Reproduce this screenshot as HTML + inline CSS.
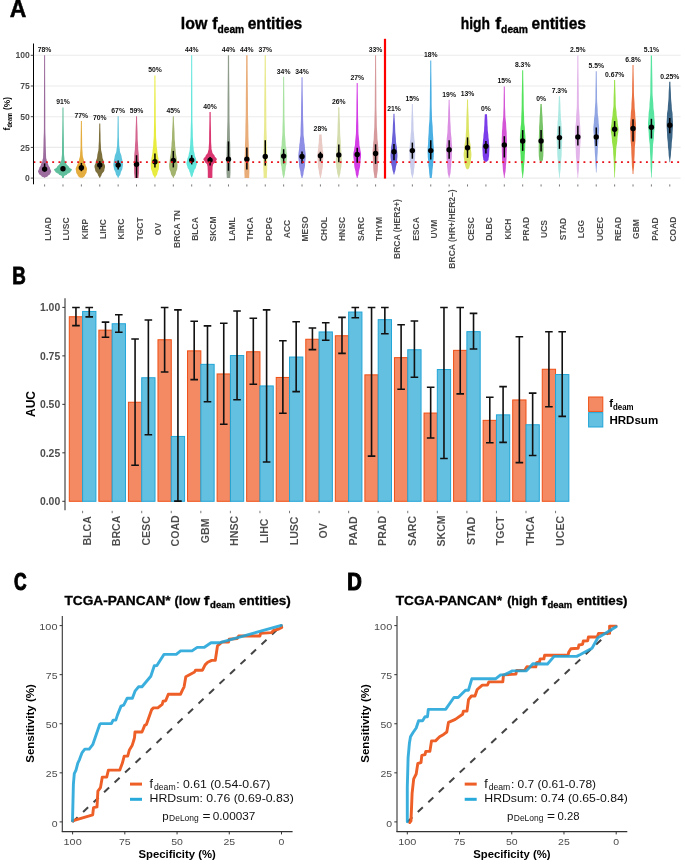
<!DOCTYPE html><html><head><meta charset="utf-8"><title>Figure</title><style>html,body{margin:0;padding:0;background:#fff;}svg{display:block;will-change:transform;}text{font-family:"Liberation Sans",sans-serif;}</style></head><body>
<svg width="685" height="866" viewBox="0 0 685 866">
<rect width="685" height="866" fill="#fff"/>
<line x1="33.6" y1="178.1" x2="680.6" y2="178.1" stroke="#ebebeb" stroke-width="1.1"/>
<line x1="33.6" y1="147.4" x2="680.6" y2="147.4" stroke="#ebebeb" stroke-width="1.1"/>
<line x1="33.6" y1="116.7" x2="680.6" y2="116.7" stroke="#ebebeb" stroke-width="1.1"/>
<line x1="33.6" y1="86" x2="680.6" y2="86" stroke="#ebebeb" stroke-width="1.1"/>
<line x1="33.6" y1="55.3" x2="680.6" y2="55.3" stroke="#ebebeb" stroke-width="1.1"/>
<path d="M44.3,177.73 L43.9,177.36 L42.95,176.99 L42,176.63 L41.6,176.26 L41.22,175.64 L40.3,175.03 L39.38,174.42 L39,173.8 L38.85,173.22 L38.5,172.64 L38.15,172.05 L38,171.47 L38.18,170.67 L38.6,169.87 L39.02,169.07 L39.2,168.28 L39.46,167.35 L40.1,166.43 L40.74,165.51 L41,164.59 L41.21,163.67 L41.7,162.75 L42.19,161.83 L42.4,160.91 L42.5,159.99 L42.75,159.07 L43,158.14 L43.1,157.22 L43.13,155.69 L43.2,154.15 L43.27,152.62 L43.3,151.08 L43.33,149.24 L43.4,147.4 L43.47,145.56 L43.5,143.72 L43.56,140.03 L43.7,136.35 L43.84,132.66 L43.9,128.98 L43.93,110.56 L44,92.14 L44.07,73.72 L44.1,55.3 L45.1,55.3 L45.13,73.72 L45.2,92.14 L45.27,110.56 L45.3,128.98 L45.36,132.66 L45.5,136.35 L45.64,140.03 L45.7,143.72 L45.73,145.56 L45.8,147.4 L45.87,149.24 L45.9,151.08 L45.93,152.62 L46,154.15 L46.07,155.69 L46.1,157.22 L46.2,158.14 L46.45,159.07 L46.7,159.99 L46.8,160.91 L47.01,161.83 L47.5,162.75 L47.99,163.67 L48.2,164.59 L48.46,165.51 L49.1,166.43 L49.74,167.35 L50,168.28 L50.18,169.07 L50.6,169.87 L51.02,170.67 L51.2,171.47 L51.05,172.05 L50.7,172.64 L50.35,173.22 L50.2,173.8 L49.82,174.42 L48.9,175.03 L47.98,175.64 L47.6,176.26 L47.2,176.63 L46.25,176.99 L45.3,177.36 L44.9,177.73 Z" fill="#9d6c9f"/>
<path d="M62.19,178.1 L62.14,177.64 L62.04,177.18 L61.93,176.72 L61.89,176.26 L61.46,175.8 L60.44,175.34 L59.41,174.88 L58.99,174.42 L58.48,173.8 L57.24,173.19 L56,172.57 L55.49,171.96 L55.27,171.41 L54.74,170.85 L54.21,170.3 L53.99,169.75 L54.43,169.07 L55.49,168.4 L56.55,167.72 L56.99,167.05 L57.43,166.13 L58.49,165.21 L59.55,164.28 L59.99,163.36 L60.21,162.44 L60.74,161.52 L61.27,160.6 L61.49,159.68 L61.56,158.15 L61.74,156.61 L61.91,155.07 L61.99,153.54 L62.06,142.06 L62.24,130.57 L62.41,119.08 L62.49,107.6 L63.49,107.6 L63.56,119.08 L63.74,130.57 L63.91,142.06 L63.99,153.54 L64.06,155.07 L64.24,156.61 L64.41,158.15 L64.49,159.68 L64.71,160.6 L65.24,161.52 L65.77,162.44 L65.99,163.36 L66.43,164.28 L67.49,165.21 L68.55,166.13 L68.99,167.05 L69.43,167.72 L70.49,168.4 L71.55,169.07 L71.99,169.75 L71.77,170.3 L71.24,170.85 L70.71,171.41 L70.49,171.96 L69.98,172.57 L68.74,173.19 L67.5,173.8 L66.99,174.42 L66.56,174.88 L65.54,175.34 L64.51,175.8 L64.09,176.26 L64.04,176.72 L63.94,177.18 L63.83,177.64 L63.79,178.1 Z" fill="#5fbf9c"/>
<path d="M79.78,177.85 L79.5,177.3 L78.83,176.75 L78.15,176.2 L77.88,175.64 L77.63,174.88 L77.03,174.11 L76.42,173.34 L76.18,172.57 L76.1,171.59 L75.93,170.61 L75.75,169.63 L75.68,168.64 L75.92,167.63 L76.53,166.62 L77.13,165.61 L77.38,164.59 L77.58,163.76 L78.08,162.93 L78.57,162.11 L78.78,161.28 L78.97,159.71 L79.43,158.14 L79.89,156.58 L80.08,155.01 L80.15,152.83 L80.33,150.65 L80.5,148.47 L80.58,146.29 L80.62,140 L80.73,133.7 L80.83,127.4 L80.88,121.1 L81.88,121.1 L81.92,127.4 L82.03,133.7 L82.13,140 L82.18,146.29 L82.25,148.47 L82.43,150.65 L82.6,152.83 L82.68,155.01 L82.87,156.58 L83.33,158.14 L83.79,159.71 L83.98,161.28 L84.18,162.11 L84.68,162.93 L85.17,163.76 L85.38,164.59 L85.62,165.61 L86.23,166.62 L86.83,167.63 L87.08,168.64 L87,169.63 L86.83,170.61 L86.65,171.59 L86.58,172.57 L86.33,173.34 L85.73,174.11 L85.12,174.88 L84.88,175.64 L84.6,176.2 L83.93,176.75 L83.25,177.3 L82.98,177.85 Z" fill="#e4ad3e"/>
<path d="M99.46,178.1 L99.22,177.15 L98.61,176.2 L98.01,175.24 L97.76,174.29 L97.4,173.4 L96.51,172.51 L95.63,171.62 L95.26,170.73 L95.15,169.66 L94.86,168.58 L94.58,167.51 L94.46,166.43 L94.65,165.36 L95.11,164.28 L95.57,163.21 L95.76,162.14 L95.97,160.85 L96.46,159.56 L96.96,158.27 L97.16,156.98 L97.37,154.8 L97.86,152.62 L98.36,150.44 L98.56,148.26 L98.62,145.9 L98.76,143.53 L98.91,141.17 L98.96,138.8 L99.01,134.98 L99.11,131.15 L99.22,127.33 L99.26,123.5 L100.26,123.5 L100.31,127.33 L100.41,131.15 L100.52,134.98 L100.56,138.8 L100.62,141.17 L100.76,143.53 L100.91,145.9 L100.96,148.26 L101.17,150.44 L101.66,152.62 L102.16,154.8 L102.36,156.98 L102.57,158.27 L103.06,159.56 L103.56,160.85 L103.76,162.14 L103.95,163.21 L104.41,164.28 L104.87,165.36 L105.06,166.43 L104.95,167.51 L104.66,168.58 L104.38,169.66 L104.26,170.73 L103.9,171.62 L103.01,172.51 L102.13,173.4 L101.76,174.29 L101.52,175.24 L100.91,176.2 L100.31,177.15 L100.06,178.1 Z" fill="#7d6f3c"/>
<path d="M117.85,178.1 L117.53,176.87 L116.75,175.64 L115.97,174.42 L115.65,173.19 L115.39,171.96 L114.75,170.73 L114.12,169.5 L113.85,168.28 L113.78,167.39 L113.6,166.5 L113.43,165.61 L113.35,164.71 L113.43,163.76 L113.6,162.81 L113.78,161.86 L113.85,160.91 L113.97,159.93 L114.25,158.94 L114.53,157.96 L114.65,156.98 L114.92,155.41 L115.55,153.85 L116.19,152.28 L116.45,150.72 L116.55,149.18 L116.8,147.65 L117.05,146.11 L117.15,144.58 L117.2,142.21 L117.3,139.85 L117.41,137.48 L117.45,135.12 L117.48,130.41 L117.55,125.71 L117.62,121 L117.65,116.3 L118.65,116.3 L118.68,121 L118.75,125.71 L118.82,130.41 L118.85,135.12 L118.9,137.48 L119,139.85 L119.11,142.21 L119.15,144.58 L119.25,146.11 L119.5,147.65 L119.75,149.18 L119.85,150.72 L120.12,152.28 L120.75,153.85 L121.39,155.41 L121.65,156.98 L121.77,157.96 L122.05,158.94 L122.33,159.93 L122.45,160.91 L122.53,161.86 L122.7,162.81 L122.88,163.76 L122.95,164.71 L122.88,165.61 L122.7,166.5 L122.53,167.39 L122.45,168.28 L122.19,169.5 L121.55,170.73 L120.92,171.96 L120.65,173.19 L120.33,174.42 L119.55,175.64 L118.77,176.87 L118.45,178.1 Z" fill="#5cc4dc"/>
<path d="M134.54,178.1 L134.47,176.56 L134.29,175.03 L134.11,173.5 L134.04,171.96 L134.03,169.81 L133.99,167.66 L133.95,165.51 L133.94,163.36 L133.98,161.52 L134.09,159.68 L134.2,157.84 L134.24,156 L134.34,153.85 L134.59,151.7 L134.84,149.55 L134.94,147.4 L135.01,144.94 L135.19,142.49 L135.37,140.03 L135.44,137.58 L135.53,132.26 L135.74,126.94 L135.95,121.62 L136.04,116.3 L137.04,116.3 L137.13,121.62 L137.34,126.94 L137.55,132.26 L137.64,137.58 L137.71,140.03 L137.89,142.49 L138.07,144.94 L138.14,147.4 L138.24,149.55 L138.49,151.7 L138.74,153.85 L138.84,156 L138.88,157.84 L138.99,159.68 L139.1,161.52 L139.14,163.36 L139.13,165.51 L139.09,167.66 L139.05,169.81 L139.04,171.96 L138.97,173.5 L138.79,175.03 L138.61,176.56 L138.54,178.1 Z" fill="#d3658f"/>
<path d="M154.63,178.1 L154.31,176.87 L153.53,175.64 L152.75,174.42 L152.43,173.19 L152.21,171.96 L151.68,170.73 L151.15,169.5 L150.93,168.28 L150.9,167.23 L150.83,166.19 L150.76,165.14 L150.73,164.1 L150.82,163 L151.03,161.89 L151.24,160.79 L151.33,159.68 L151.5,157.65 L151.93,155.63 L152.35,153.6 L152.53,151.58 L152.63,149.86 L152.88,148.14 L153.13,146.42 L153.23,144.7 L153.32,142.3 L153.53,139.91 L153.74,137.51 L153.83,135.12 L153.87,130.51 L153.98,125.91 L154.08,121.3 L154.13,116.7 L154.17,106.4 L154.28,96.1 L154.38,85.8 L154.43,75.5 L155.43,75.5 L155.47,85.8 L155.58,96.1 L155.68,106.4 L155.73,116.7 L155.77,121.3 L155.88,125.91 L155.98,130.51 L156.03,135.12 L156.12,137.51 L156.33,139.91 L156.54,142.3 L156.63,144.7 L156.73,146.42 L156.98,148.14 L157.23,149.86 L157.33,151.58 L157.5,153.6 L157.93,155.63 L158.35,157.65 L158.53,159.68 L158.62,160.79 L158.83,161.89 L159.04,163 L159.13,164.1 L159.1,165.14 L159.03,166.19 L158.96,167.23 L158.93,168.28 L158.71,169.5 L158.18,170.73 L157.65,171.96 L157.43,173.19 L157.11,174.42 L156.33,175.64 L155.55,176.87 L155.23,178.1 Z" fill="#e8ec3e"/>
<path d="M173.02,178.1 L172.69,176.87 L171.92,175.64 L171.14,174.42 L170.82,173.19 L170.6,171.96 L170.07,170.73 L169.54,169.5 L169.32,168.28 L169.29,167.57 L169.22,166.86 L169.15,166.16 L169.12,165.45 L169.22,164.01 L169.47,162.57 L169.71,161.12 L169.82,159.68 L169.98,157.65 L170.37,155.63 L170.75,153.6 L170.92,151.58 L171,149.92 L171.22,148.26 L171.43,146.6 L171.52,144.94 L171.59,143.1 L171.77,141.26 L171.94,139.42 L172.02,137.58 L172.13,132.26 L172.42,126.94 L172.7,121.62 L172.82,116.3 L173.82,116.3 L173.93,121.62 L174.22,126.94 L174.5,132.26 L174.62,137.58 L174.69,139.42 L174.87,141.26 L175.04,143.1 L175.12,144.94 L175.2,146.6 L175.42,148.26 L175.63,149.92 L175.72,151.58 L175.88,153.6 L176.27,155.63 L176.65,157.65 L176.82,159.68 L176.92,161.12 L177.17,162.57 L177.41,164.01 L177.52,165.45 L177.49,166.16 L177.42,166.86 L177.35,167.57 L177.32,168.28 L177.1,169.5 L176.57,170.73 L176.04,171.96 L175.82,173.19 L175.49,174.42 L174.72,175.64 L173.94,176.87 L173.62,178.1 Z" fill="#a3b46f"/>
<path d="M191.4,177.36 L191.26,176.63 L190.9,175.89 L190.55,175.15 L190.4,174.42 L190.23,173.5 L189.8,172.57 L189.38,171.65 L189.2,170.73 L188.94,169.81 L188.3,168.89 L187.67,167.97 L187.4,167.05 L187.26,166.13 L186.9,165.21 L186.55,164.28 L186.4,163.36 L186.52,162.44 L186.8,161.52 L187.09,160.6 L187.2,159.68 L187.42,158.45 L187.95,157.22 L188.48,156 L188.7,154.77 L188.85,153.54 L189.2,152.31 L189.56,151.08 L189.7,149.86 L189.78,148.32 L189.95,146.79 L190.13,145.25 L190.2,143.72 L190.26,141.57 L190.4,139.42 L190.55,137.27 L190.6,135.12 L190.66,130.51 L190.8,125.91 L190.95,121.3 L191,116.7 L191.03,101.35 L191.1,86 L191.17,70.65 L191.2,55.3 L192.2,55.3 L192.23,70.65 L192.3,86 L192.37,101.35 L192.4,116.7 L192.46,121.3 L192.6,125.91 L192.75,130.51 L192.8,135.12 L192.86,137.27 L193,139.42 L193.15,141.57 L193.2,143.72 L193.28,145.25 L193.45,146.79 L193.63,148.32 L193.7,149.86 L193.85,151.08 L194.2,152.31 L194.56,153.54 L194.7,154.77 L194.92,156 L195.45,157.22 L195.98,158.45 L196.2,159.68 L196.32,160.6 L196.6,161.52 L196.89,162.44 L197,163.36 L196.86,164.28 L196.5,165.21 L196.15,166.13 L196,167.05 L195.74,167.97 L195.1,168.89 L194.47,169.81 L194.2,170.73 L194.03,171.65 L193.6,172.57 L193.18,173.5 L193,174.42 L192.86,175.15 L192.5,175.89 L192.15,176.63 L192,177.36 Z" fill="#62e6dc"/>
<path d="M208.59,178.1 L208.47,177.95 L208.19,177.79 L207.91,177.64 L207.79,177.49 L207.79,176.1 L207.79,174.72 L207.79,173.34 L207.79,171.96 L207.76,170.73 L207.69,169.5 L207.62,168.28 L207.59,167.05 L207.52,166.43 L207.34,165.82 L207.17,165.21 L207.09,164.59 L206.8,163.98 L206.09,163.36 L205.38,162.75 L205.09,162.14 L204.83,161.4 L204.19,160.66 L203.56,159.93 L203.29,159.19 L203.63,158.39 L204.44,157.59 L205.26,156.79 L205.59,156 L205.93,155.07 L206.74,154.15 L207.56,153.23 L207.89,152.31 L208.01,151.39 L208.29,150.47 L208.57,149.55 L208.69,148.63 L208.75,146.79 L208.89,144.94 L209.03,143.1 L209.09,141.26 L209.15,133.92 L209.29,126.58 L209.43,119.24 L209.49,111.9 L210.69,111.9 L210.75,119.24 L210.89,126.58 L211.03,133.92 L211.09,141.26 L211.15,143.1 L211.29,144.94 L211.43,146.79 L211.49,148.63 L211.61,149.55 L211.89,150.47 L212.17,151.39 L212.29,152.31 L212.63,153.23 L213.44,154.15 L214.26,155.07 L214.59,156 L214.93,156.79 L215.74,157.59 L216.56,158.39 L216.89,159.19 L216.63,159.93 L215.99,160.66 L215.36,161.4 L215.09,162.14 L214.8,162.75 L214.09,163.36 L213.38,163.98 L213.09,164.59 L213.02,165.21 L212.84,165.82 L212.67,166.43 L212.59,167.05 L212.56,168.28 L212.49,169.5 L212.42,170.73 L212.39,171.96 L212.39,173.34 L212.39,174.72 L212.39,176.1 L212.39,177.49 L212.27,177.64 L211.99,177.79 L211.71,177.95 L211.59,178.1 Z" fill="#da3670"/>
<path d="M226.78,178.1 L226.74,176.56 L226.63,175.03 L226.52,173.5 L226.48,171.96 L226.48,168.89 L226.48,165.82 L226.48,162.75 L226.48,159.68 L226.51,156.61 L226.58,153.54 L226.65,150.47 L226.68,147.4 L226.74,144.33 L226.88,141.26 L227.02,138.19 L227.08,135.12 L227.14,130.51 L227.28,125.91 L227.42,121.3 L227.48,116.7 L227.54,101.35 L227.68,86 L227.82,70.65 L227.88,55.3 L229.08,55.3 L229.14,70.65 L229.28,86 L229.42,101.35 L229.48,116.7 L229.54,121.3 L229.68,125.91 L229.82,130.51 L229.88,135.12 L229.94,138.19 L230.08,141.26 L230.22,144.33 L230.28,147.4 L230.31,150.47 L230.38,153.54 L230.45,156.61 L230.48,159.68 L230.48,162.75 L230.48,165.82 L230.48,168.89 L230.48,171.96 L230.44,173.5 L230.33,175.03 L230.22,176.56 L230.18,178.1 Z" fill="#8f9d8d"/>
<path d="M244.57,178.1 L244.54,176.56 L244.47,175.03 L244.4,173.5 L244.37,171.96 L244.4,168.89 L244.47,165.82 L244.54,162.75 L244.57,159.68 L244.61,157.53 L244.72,155.38 L244.82,153.23 L244.87,151.08 L244.94,146.17 L245.12,141.26 L245.29,136.35 L245.37,131.44 L245.43,126.22 L245.57,121 L245.71,115.78 L245.77,110.56 L245.83,96.75 L245.97,82.93 L246.11,69.11 L246.17,55.3 L247.57,55.3 L247.63,69.11 L247.77,82.93 L247.91,96.75 L247.97,110.56 L248.03,115.78 L248.17,121 L248.31,126.22 L248.37,131.44 L248.44,136.35 L248.62,141.26 L248.79,146.17 L248.87,151.08 L248.91,153.23 L249.02,155.38 L249.12,157.53 L249.17,159.68 L249.2,162.75 L249.27,165.82 L249.34,168.89 L249.37,171.96 L249.34,173.5 L249.27,175.03 L249.2,176.56 L249.17,178.1 Z" fill="#e9ad79"/>
<path d="M263.66,178.1 L263.6,175.03 L263.46,171.96 L263.31,168.89 L263.26,165.82 L263.29,162.75 L263.36,159.68 L263.43,156.61 L263.46,153.54 L263.5,150.47 L263.61,147.4 L263.71,144.33 L263.76,141.26 L263.81,136.66 L263.96,132.05 L264.1,127.44 L264.16,122.84 L264.23,105.95 L264.41,89.07 L264.58,72.19 L264.66,55.3 L265.86,55.3 L265.93,72.19 L266.11,89.07 L266.28,105.95 L266.36,122.84 L266.41,127.44 L266.56,132.05 L266.7,136.66 L266.76,141.26 L266.8,144.33 L266.91,147.4 L267.01,150.47 L267.06,153.54 L267.09,156.61 L267.16,159.68 L267.23,162.75 L267.26,165.82 L267.2,168.89 L267.06,171.96 L266.91,175.03 L266.86,178.1 Z" fill="#e9ea8f"/>
<path d="M283.24,178.1 L283.11,176.87 L282.79,175.64 L282.48,174.42 L282.34,173.19 L282.24,171.96 L281.99,170.73 L281.75,169.5 L281.64,168.28 L281.5,166.74 L281.14,165.21 L280.79,163.67 L280.64,162.14 L280.57,160.54 L280.39,158.94 L280.22,157.35 L280.14,155.75 L280.25,154.28 L280.49,152.8 L280.74,151.33 L280.84,149.86 L280.96,148.57 L281.24,147.28 L281.53,145.99 L281.64,144.7 L281.76,141.38 L282.04,138.07 L282.33,134.75 L282.44,131.44 L282.5,127.14 L282.64,122.84 L282.79,118.54 L282.84,114.24 L282.89,104.86 L282.99,95.47 L283.1,86.09 L283.14,76.7 L284.14,76.7 L284.19,86.09 L284.29,95.47 L284.4,104.86 L284.44,114.24 L284.5,118.54 L284.64,122.84 L284.79,127.14 L284.84,131.44 L284.96,134.75 L285.24,138.07 L285.53,141.38 L285.64,144.7 L285.76,145.99 L286.04,147.28 L286.33,148.57 L286.44,149.86 L286.55,151.33 L286.79,152.8 L287.04,154.28 L287.14,155.75 L287.07,157.35 L286.89,158.94 L286.72,160.54 L286.64,162.14 L286.5,163.67 L286.14,165.21 L285.79,166.74 L285.64,168.28 L285.54,169.5 L285.29,170.73 L285.05,171.96 L284.94,173.19 L284.81,174.42 L284.49,175.64 L284.18,176.87 L284.04,178.1 Z" fill="#a8e3a1"/>
<path d="M301.53,178.1 L301.39,176.87 L301.03,175.64 L300.68,174.42 L300.53,173.19 L300.31,171.16 L299.78,169.14 L299.25,167.11 L299.03,165.08 L298.93,162.81 L298.68,160.54 L298.43,158.27 L298.33,156 L298.46,153.48 L298.78,150.96 L299.1,148.44 L299.23,145.93 L299.32,144.76 L299.53,143.59 L299.74,142.43 L299.83,141.26 L299.93,139.42 L300.18,137.58 L300.43,135.73 L300.53,133.89 L300.61,128.98 L300.78,124.07 L300.96,119.16 L301.03,114.24 L301.11,105.01 L301.28,95.77 L301.46,86.54 L301.53,77.3 L302.53,77.3 L302.61,86.54 L302.78,95.77 L302.96,105.01 L303.03,114.24 L303.11,119.16 L303.28,124.07 L303.46,128.98 L303.53,133.89 L303.63,135.73 L303.88,137.58 L304.13,139.42 L304.23,141.26 L304.32,142.43 L304.53,143.59 L304.74,144.76 L304.83,145.93 L304.96,148.44 L305.28,150.96 L305.6,153.48 L305.73,156 L305.63,158.27 L305.38,160.54 L305.13,162.81 L305.03,165.08 L304.81,167.11 L304.28,169.14 L303.75,171.16 L303.53,173.19 L303.39,174.42 L303.03,175.64 L302.68,176.87 L302.53,178.1 Z" fill="#8d8de6"/>
<path d="M320.02,178.1 L319.86,176.56 L319.47,175.03 L319.08,173.5 L318.92,171.96 L318.77,170.43 L318.42,168.89 L318.07,167.35 L317.92,165.82 L317.85,162.96 L317.67,160.11 L317.49,157.25 L317.42,154.4 L317.54,152.65 L317.82,150.9 L318.1,149.15 L318.22,147.4 L318.31,145.87 L318.52,144.33 L318.73,142.79 L318.82,141.26 L318.88,139.57 L319.02,137.88 L319.16,136.19 L319.22,134.5 L321.62,134.5 L321.68,136.19 L321.82,137.88 L321.96,139.57 L322.02,141.26 L322.11,142.79 L322.32,144.33 L322.53,145.87 L322.62,147.4 L322.74,149.15 L323.02,150.9 L323.3,152.65 L323.42,154.4 L323.35,157.25 L323.17,160.11 L322.99,162.96 L322.92,165.82 L322.77,167.35 L322.42,168.89 L322.07,170.43 L321.92,171.96 L321.76,173.5 L321.37,175.03 L320.98,176.56 L320.82,178.1 Z" fill="#eacac4"/>
<path d="M338.41,178.1 L338.22,176.56 L337.76,175.03 L337.3,173.5 L337.11,171.96 L336.98,170.43 L336.66,168.89 L336.34,167.35 L336.21,165.82 L336.15,164.35 L336.01,162.87 L335.87,161.4 L335.81,159.93 L335.87,158.33 L336.01,156.73 L336.15,155.14 L336.21,153.54 L336.3,151.33 L336.51,149.12 L336.72,146.91 L336.81,144.7 L336.91,141.38 L337.16,138.07 L337.41,134.75 L337.51,131.44 L337.61,125.38 L337.86,119.32 L338.11,113.26 L338.21,107.2 L339.41,107.2 L339.51,113.26 L339.76,119.32 L340.01,125.38 L340.11,131.44 L340.21,134.75 L340.46,138.07 L340.71,141.38 L340.81,144.7 L340.9,146.91 L341.11,149.12 L341.32,151.33 L341.41,153.54 L341.47,155.14 L341.61,156.73 L341.75,158.33 L341.81,159.93 L341.75,161.4 L341.61,162.87 L341.47,164.35 L341.41,165.82 L341.28,167.35 L340.96,168.89 L340.64,170.43 L340.51,171.96 L340.32,173.5 L339.86,175.03 L339.4,176.56 L339.21,178.1 Z" fill="#d5dcad"/>
<path d="M356.8,178.1 L356.63,176.87 L356.25,175.64 L355.86,174.42 L355.7,173.19 L355.48,171.16 L354.95,169.14 L354.42,167.11 L354.2,165.08 L354.06,162.41 L353.75,159.74 L353.43,157.07 L353.3,154.4 L353.43,152.96 L353.75,151.51 L354.06,150.07 L354.2,148.63 L354.31,147.65 L354.6,146.66 L354.88,145.68 L355,144.7 L355.14,141.38 L355.5,138.07 L355.85,134.75 L356,131.44 L356.05,126.22 L356.2,121 L356.34,115.78 L356.4,110.56 L356.44,103.67 L356.55,96.78 L356.65,89.89 L356.7,83 L357.7,83 L357.74,89.89 L357.85,96.78 L357.95,103.67 L358,110.56 L358.05,115.78 L358.2,121 L358.34,126.22 L358.4,131.44 L358.54,134.75 L358.9,138.07 L359.25,141.38 L359.4,144.7 L359.51,145.68 L359.8,146.66 L360.08,147.65 L360.2,148.63 L360.33,150.07 L360.65,151.51 L360.96,152.96 L361.1,154.4 L360.96,157.07 L360.65,159.74 L360.33,162.41 L360.2,165.08 L359.98,167.11 L359.45,169.14 L358.92,171.16 L358.7,173.19 L358.53,174.42 L358.15,175.64 L357.76,176.87 L357.6,178.1 Z" fill="#d43ce6"/>
<path d="M374.38,178.1 L374.22,175.64 L373.83,173.19 L373.45,170.73 L373.28,168.28 L373.23,166.13 L373.08,163.98 L372.94,161.83 L372.88,159.68 L372.84,157.65 L372.73,155.63 L372.63,153.6 L372.58,151.58 L372.66,149.92 L372.83,148.26 L373.01,146.6 L373.08,144.94 L373.19,143.1 L373.43,141.26 L373.68,139.42 L373.78,137.58 L373.87,134.2 L374.08,130.82 L374.3,127.44 L374.38,124.07 L374.44,119.16 L374.58,114.24 L374.73,109.33 L374.78,104.42 L374.83,92.14 L374.93,79.86 L375.04,67.58 L375.08,55.3 L376.08,55.3 L376.13,67.58 L376.23,79.86 L376.34,92.14 L376.38,104.42 L376.44,109.33 L376.58,114.24 L376.73,119.16 L376.78,124.07 L376.87,127.44 L377.08,130.82 L377.3,134.2 L377.38,137.58 L377.49,139.42 L377.73,141.26 L377.98,143.1 L378.08,144.94 L378.16,146.6 L378.33,148.26 L378.51,149.92 L378.58,151.58 L378.54,153.6 L378.43,155.63 L378.33,157.65 L378.28,159.68 L378.23,161.83 L378.08,163.98 L377.94,166.13 L377.88,168.28 L377.72,170.73 L377.33,173.19 L376.95,175.64 L376.78,178.1 Z" fill="#d79a9c"/>
<path d="M393.57,174.54 L393.37,172.97 L392.87,171.41 L392.38,169.84 L392.17,168.28 L392,166.74 L391.57,165.21 L391.15,163.67 L390.97,162.14 L390.9,160.54 L390.72,158.94 L390.55,157.35 L390.47,155.75 L390.55,153.97 L390.72,152.19 L390.9,150.41 L390.97,148.63 L391.12,146.79 L391.47,144.94 L391.83,143.1 L391.97,141.26 L392.09,138.19 L392.37,135.12 L392.65,132.05 L392.77,128.98 L392.87,125.16 L393.12,121.34 L393.37,117.52 L393.47,113.7 L394.47,113.7 L394.57,117.52 L394.82,121.34 L395.07,125.16 L395.17,128.98 L395.29,132.05 L395.57,135.12 L395.85,138.19 L395.97,141.26 L396.12,143.1 L396.47,144.94 L396.83,146.79 L396.97,148.63 L397.05,150.41 L397.22,152.19 L397.4,153.97 L397.47,155.75 L397.4,157.35 L397.22,158.94 L397.05,160.54 L396.97,162.14 L396.8,163.67 L396.37,165.21 L395.95,166.74 L395.77,168.28 L395.57,169.84 L395.07,171.41 L394.58,172.97 L394.37,174.54 Z" fill="#6a60d7"/>
<path d="M412.06,178.1 L411.88,176.56 L411.46,175.03 L411.04,173.5 L410.86,171.96 L410.74,170.06 L410.46,168.15 L410.18,166.25 L410.06,164.35 L409.99,162.57 L409.81,160.79 L409.63,159 L409.56,157.22 L409.53,155.54 L409.46,153.85 L409.39,152.16 L409.36,150.47 L409.43,148.78 L409.61,147.09 L409.79,145.4 L409.86,143.72 L409.96,141.87 L410.21,140.03 L410.46,138.19 L410.56,136.35 L410.65,134.51 L410.86,132.66 L411.07,130.82 L411.16,128.98 L411.26,122.76 L411.51,116.54 L411.76,110.32 L411.86,104.1 L412.86,104.1 L412.96,110.32 L413.21,116.54 L413.46,122.76 L413.56,128.98 L413.65,130.82 L413.86,132.66 L414.07,134.51 L414.16,136.35 L414.26,138.19 L414.51,140.03 L414.76,141.87 L414.86,143.72 L414.93,145.4 L415.11,147.09 L415.29,148.78 L415.36,150.47 L415.33,152.16 L415.26,153.85 L415.19,155.54 L415.16,157.22 L415.09,159 L414.91,160.79 L414.73,162.57 L414.66,164.35 L414.54,166.25 L414.26,168.15 L413.98,170.06 L413.86,171.96 L413.68,173.5 L413.26,175.03 L412.84,176.56 L412.66,178.1 Z" fill="#c9cdec"/>
<path d="M429.75,178.1 L429.66,176.56 L429.45,175.03 L429.24,173.5 L429.15,171.96 L429.03,169.81 L428.75,167.66 L428.47,165.51 L428.35,163.36 L428.26,161.52 L428.05,159.68 L427.84,157.84 L427.75,156 L427.72,154.61 L427.65,153.23 L427.58,151.85 L427.55,150.47 L427.64,148.17 L427.85,145.87 L428.06,143.56 L428.15,141.26 L428.24,138.37 L428.45,135.49 L428.66,132.6 L428.75,129.72 L428.87,126.46 L429.15,123.21 L429.43,119.95 L429.55,116.7 L429.59,113.63 L429.7,110.56 L429.8,107.49 L429.85,104.42 L429.91,93.44 L430.05,82.46 L430.19,71.48 L430.25,60.5 L431.25,60.5 L431.31,71.48 L431.45,82.46 L431.59,93.44 L431.65,104.42 L431.69,107.49 L431.8,110.56 L431.9,113.63 L431.95,116.7 L432.07,119.95 L432.35,123.21 L432.63,126.46 L432.75,129.72 L432.84,132.6 L433.05,135.49 L433.26,138.37 L433.35,141.26 L433.44,143.56 L433.65,145.87 L433.86,148.17 L433.95,150.47 L433.92,151.85 L433.85,153.23 L433.78,154.61 L433.75,156 L433.66,157.84 L433.45,159.68 L433.24,161.52 L433.15,163.36 L433.03,165.51 L432.75,167.66 L432.47,169.81 L432.35,171.96 L432.26,173.5 L432.05,175.03 L431.84,176.56 L431.75,178.1 Z" fill="#4aafe2"/>
<path d="M448.84,178.1 L448.66,176.56 L448.24,175.03 L447.81,173.5 L447.64,171.96 L447.55,170.12 L447.34,168.28 L447.12,166.43 L447.04,164.59 L446.95,162.44 L446.74,160.29 L446.52,158.14 L446.44,156 L446.39,153.91 L446.29,151.82 L446.18,149.73 L446.14,147.65 L446.21,146.05 L446.39,144.45 L446.56,142.86 L446.64,141.26 L446.77,138.37 L447.09,135.49 L447.4,132.6 L447.54,129.72 L447.62,126.46 L447.84,123.21 L448.05,119.95 L448.14,116.7 L448.21,112.47 L448.39,108.25 L448.56,104.02 L448.64,99.8 L449.64,99.8 L449.71,104.02 L449.89,108.25 L450.06,112.47 L450.14,116.7 L450.22,119.95 L450.44,123.21 L450.65,126.46 L450.74,129.72 L450.87,132.6 L451.19,135.49 L451.5,138.37 L451.64,141.26 L451.71,142.86 L451.89,144.45 L452.06,146.05 L452.14,147.65 L452.09,149.73 L451.99,151.82 L451.88,153.91 L451.84,156 L451.75,158.14 L451.54,160.29 L451.32,162.44 L451.24,164.59 L451.15,166.43 L450.94,168.28 L450.72,170.12 L450.64,171.96 L450.46,173.5 L450.04,175.03 L449.61,176.56 L449.44,178.1 Z" fill="#da8fe2"/>
<path d="M466.72,169.26 L466.55,168.71 L466.12,168.15 L465.7,167.6 L465.52,167.05 L465.35,165.82 L464.92,164.59 L464.5,163.36 L464.32,162.14 L464.22,160.26 L463.97,158.39 L463.73,156.52 L463.62,154.65 L463.73,152.83 L463.97,151.02 L464.22,149.21 L464.32,147.4 L464.53,144.7 L465.02,142 L465.52,139.3 L465.72,136.59 L465.8,134.08 L465.97,131.56 L466.15,129.04 L466.22,126.52 L466.34,119.74 L466.62,112.96 L466.91,106.18 L467.02,99.4 L468.02,99.4 L468.14,106.18 L468.42,112.96 L468.71,119.74 L468.82,126.52 L468.9,129.04 L469.07,131.56 L469.25,134.08 L469.32,136.59 L469.53,139.3 L470.02,142 L470.52,144.7 L470.72,147.4 L470.83,149.21 L471.07,151.02 L471.32,152.83 L471.42,154.65 L471.32,156.52 L471.07,158.39 L470.83,160.26 L470.72,162.14 L470.55,163.36 L470.12,164.59 L469.7,165.82 L469.52,167.05 L469.35,167.6 L468.92,168.15 L468.5,168.71 L468.32,169.26 Z" fill="#dce463"/>
<path d="M484.91,161.64 L484.68,161.15 L484.11,160.66 L483.55,160.17 L483.31,159.68 L483.22,158.45 L483.01,157.22 L482.8,156 L482.71,154.77 L482.67,152.99 L482.56,151.21 L482.46,149.43 L482.41,147.65 L482.49,146.05 L482.66,144.45 L482.84,142.86 L482.91,141.26 L482.99,140.09 L483.16,138.93 L483.34,137.76 L483.41,136.59 L483.51,134.69 L483.76,132.79 L484.01,130.88 L484.11,128.98 L484.16,127.44 L484.26,125.91 L484.37,124.38 L484.41,122.84 L484.47,120.68 L484.61,118.52 L484.75,116.36 L484.81,114.2 L487.01,114.2 L487.07,116.36 L487.21,118.52 L487.35,120.68 L487.41,122.84 L487.46,124.38 L487.56,125.91 L487.67,127.44 L487.71,128.98 L487.81,130.88 L488.06,132.79 L488.31,134.69 L488.41,136.59 L488.49,137.76 L488.66,138.93 L488.84,140.09 L488.91,141.26 L488.99,142.86 L489.16,144.45 L489.34,146.05 L489.41,147.65 L489.37,149.43 L489.26,151.21 L489.16,152.99 L489.11,154.77 L489.02,156 L488.81,157.22 L488.6,158.45 L488.51,159.68 L488.28,160.17 L487.71,160.66 L487.15,161.15 L486.91,161.64 Z" fill="#7b3de9"/>
<path d="M504,178.1 L503.82,175.64 L503.4,173.19 L502.98,170.73 L502.8,168.28 L502.68,165.64 L502.4,163 L502.12,160.36 L502,157.72 L501.97,155.44 L501.9,153.17 L501.83,150.9 L501.8,148.63 L501.79,146.72 L501.75,144.82 L501.71,142.92 L501.7,141.01 L501.73,139.23 L501.8,137.45 L501.87,135.67 L501.9,133.89 L501.97,131.87 L502.15,129.84 L502.33,127.81 L502.4,125.79 L502.53,123.02 L502.85,120.26 L503.17,117.5 L503.3,114.74 L503.34,112.16 L503.45,109.58 L503.56,107 L503.6,104.42 L503.63,99.92 L503.7,95.41 L503.77,90.91 L503.8,86.4 L504.8,86.4 L504.83,90.91 L504.9,95.41 L504.97,99.92 L505,104.42 L505.04,107 L505.15,109.58 L505.26,112.16 L505.3,114.74 L505.43,117.5 L505.75,120.26 L506.07,123.02 L506.2,125.79 L506.27,127.81 L506.45,129.84 L506.63,131.87 L506.7,133.89 L506.73,135.67 L506.8,137.45 L506.87,139.23 L506.9,141.01 L506.89,142.92 L506.85,144.82 L506.81,146.72 L506.8,148.63 L506.77,150.9 L506.7,153.17 L506.63,155.44 L506.6,157.72 L506.48,160.36 L506.2,163 L505.92,165.64 L505.8,168.28 L505.62,170.73 L505.2,173.19 L504.78,175.64 L504.6,178.1 Z" fill="#d454d6"/>
<path d="M522.39,178.1 L522.26,175.64 L521.94,173.19 L521.62,170.73 L521.49,168.28 L521.37,165.64 L521.09,163 L520.81,160.36 L520.69,157.72 L520.61,155.14 L520.44,152.56 L520.26,149.98 L520.19,147.4 L520.14,145.13 L520.04,142.86 L519.93,140.58 L519.89,138.31 L519.98,135.98 L520.19,133.65 L520.4,131.31 L520.49,128.98 L520.59,127.14 L520.84,125.3 L521.09,123.45 L521.19,121.61 L521.26,117.31 L521.44,113.02 L521.61,108.72 L521.69,104.42 L521.76,95.89 L521.94,87.36 L522.11,78.83 L522.19,70.3 L523.19,70.3 L523.26,78.83 L523.44,87.36 L523.61,95.89 L523.69,104.42 L523.76,108.72 L523.94,113.02 L524.11,117.31 L524.19,121.61 L524.29,123.45 L524.54,125.3 L524.79,127.14 L524.89,128.98 L524.98,131.31 L525.19,133.65 L525.4,135.98 L525.49,138.31 L525.44,140.58 L525.34,142.86 L525.23,145.13 L525.19,147.4 L525.11,149.98 L524.94,152.56 L524.76,155.14 L524.69,157.72 L524.57,160.36 L524.29,163 L524.01,165.64 L523.89,168.28 L523.76,170.73 L523.44,173.19 L523.12,175.64 L522.99,178.1 Z" fill="#53e25b"/>
<path d="M540.28,161.77 L540.11,161.25 L539.73,160.72 L539.34,160.2 L539.18,159.68 L539.12,158.45 L538.98,157.22 L538.83,156 L538.78,154.77 L538.76,153.39 L538.73,152 L538.69,150.62 L538.68,149.24 L538.69,147.25 L538.73,145.25 L538.76,143.26 L538.78,141.26 L538.82,138.19 L538.93,135.12 L539.03,132.05 L539.08,128.98 L539.15,126.43 L539.33,123.88 L539.5,121.34 L539.58,118.79 L539.65,116.73 L539.83,114.67 L540,112.62 L540.08,110.56 L540.12,108.94 L540.23,107.33 L540.33,105.72 L540.38,104.1 L541.78,104.1 L541.82,105.72 L541.93,107.33 L542.03,108.94 L542.08,110.56 L542.15,112.62 L542.33,114.67 L542.5,116.73 L542.58,118.79 L542.65,121.34 L542.83,123.88 L543,126.43 L543.08,128.98 L543.12,132.05 L543.23,135.12 L543.33,138.19 L543.38,141.26 L543.39,143.26 L543.43,145.25 L543.46,147.25 L543.48,149.24 L543.46,150.62 L543.43,152 L543.39,153.39 L543.38,154.77 L543.32,156 L543.18,157.22 L543.03,158.45 L542.98,159.68 L542.81,160.2 L542.43,160.72 L542.04,161.25 L541.88,161.77 Z" fill="#79c469"/>
<path d="M559.16,178.1 L559.02,175.03 L558.66,171.96 L558.31,168.89 L558.16,165.82 L558.03,162.75 L557.71,159.68 L557.4,156.61 L557.26,153.54 L557.18,149.73 L556.96,145.93 L556.75,142.12 L556.66,138.31 L556.71,136.59 L556.81,134.87 L556.92,133.16 L556.96,131.44 L557.04,129.69 L557.21,127.94 L557.39,126.19 L557.46,124.44 L557.55,122.5 L557.76,120.57 L557.98,118.63 L558.06,116.7 L558.12,114.46 L558.26,112.22 L558.41,109.98 L558.46,107.74 L558.52,104.88 L558.66,102.02 L558.81,99.16 L558.86,96.3 L560.06,96.3 L560.12,99.16 L560.26,102.02 L560.41,104.88 L560.46,107.74 L560.52,109.98 L560.66,112.22 L560.81,114.46 L560.86,116.7 L560.95,118.63 L561.16,120.57 L561.38,122.5 L561.46,124.44 L561.54,126.19 L561.71,127.94 L561.89,129.69 L561.96,131.44 L562.01,133.16 L562.11,134.87 L562.22,136.59 L562.26,138.31 L562.18,142.12 L561.96,145.93 L561.75,149.73 L561.66,153.54 L561.53,156.61 L561.21,159.68 L560.9,162.75 L560.76,165.82 L560.62,168.89 L560.26,171.96 L559.91,175.03 L559.76,178.1 Z" fill="#ace9e2"/>
<path d="M577.55,178.1 L577.42,175.03 L577.1,171.96 L576.78,168.89 L576.65,165.82 L576.53,162.75 L576.25,159.68 L575.97,156.61 L575.85,153.54 L575.73,149.73 L575.45,145.93 L575.17,142.12 L575.05,138.31 L575.1,135.98 L575.2,133.65 L575.31,131.31 L575.35,128.98 L575.45,126.52 L575.7,124.07 L575.95,121.61 L576.05,119.16 L576.17,115.47 L576.45,111.79 L576.73,108.1 L576.85,104.42 L576.93,92.17 L577.1,79.91 L577.28,67.66 L577.35,55.4 L578.35,55.4 L578.43,67.66 L578.6,79.91 L578.78,92.17 L578.85,104.42 L578.97,108.1 L579.25,111.79 L579.53,115.47 L579.65,119.16 L579.75,121.61 L580,124.07 L580.25,126.52 L580.35,128.98 L580.4,131.31 L580.5,133.65 L580.61,135.98 L580.65,138.31 L580.53,142.12 L580.25,145.93 L579.97,149.73 L579.85,153.54 L579.73,156.61 L579.45,159.68 L579.17,162.75 L579.05,165.82 L578.92,168.89 L578.6,171.96 L578.28,175.03 L578.15,178.1 Z" fill="#e3b4ea"/>
<path d="M595.94,172.45 L595.84,169.26 L595.59,166.07 L595.34,162.87 L595.24,159.68 L595.17,157.38 L594.99,155.07 L594.81,152.77 L594.74,150.47 L594.62,147.55 L594.34,144.64 L594.06,141.72 L593.94,138.8 L593.85,136.26 L593.64,133.71 L593.43,131.16 L593.34,128.61 L593.43,126.55 L593.64,124.5 L593.85,122.44 L593.94,120.38 L594.06,118.45 L594.34,116.52 L594.62,114.58 L594.74,112.65 L594.84,109.06 L595.09,105.46 L595.34,101.87 L595.44,98.28 L595.48,91.51 L595.59,84.74 L595.7,77.97 L595.74,71.2 L596.74,71.2 L596.78,77.97 L596.89,84.74 L597,91.51 L597.04,98.28 L597.14,101.87 L597.39,105.46 L597.64,109.06 L597.74,112.65 L597.86,114.58 L598.14,116.52 L598.42,118.45 L598.54,120.38 L598.63,122.44 L598.84,124.5 L599.05,126.55 L599.14,128.61 L599.05,131.16 L598.84,133.71 L598.63,136.26 L598.54,138.8 L598.42,141.72 L598.14,144.64 L597.86,147.55 L597.74,150.47 L597.67,152.77 L597.49,155.07 L597.31,157.38 L597.24,159.68 L597.14,162.87 L596.89,166.07 L596.64,169.26 L596.54,172.45 Z" fill="#91a5e2"/>
<path d="M614.33,177.49 L614.25,173.96 L614.08,170.43 L613.9,166.89 L613.83,163.36 L613.73,160.14 L613.48,156.92 L613.23,153.69 L613.13,150.47 L612.94,147.55 L612.48,144.64 L612.02,141.72 L611.83,138.8 L611.67,136.44 L611.28,134.08 L610.89,131.71 L610.73,129.35 L610.86,127.41 L611.18,125.48 L611.5,123.55 L611.63,121.61 L611.77,119.77 L612.13,117.93 L612.48,116.09 L612.63,114.24 L612.76,111.79 L613.08,109.33 L613.4,106.88 L613.53,104.42 L613.62,98.29 L613.83,92.16 L614.04,86.03 L614.13,79.9 L615.13,79.9 L615.22,86.03 L615.43,92.16 L615.64,98.29 L615.73,104.42 L615.86,106.88 L616.18,109.33 L616.5,111.79 L616.63,114.24 L616.77,116.09 L617.13,117.93 L617.48,119.77 L617.63,121.61 L617.76,123.55 L618.08,125.48 L618.4,127.41 L618.53,129.35 L618.37,131.71 L617.98,134.08 L617.59,136.44 L617.43,138.8 L617.24,141.72 L616.78,144.64 L616.32,147.55 L616.13,150.47 L616.03,153.69 L615.78,156.92 L615.53,160.14 L615.43,163.36 L615.35,166.89 L615.18,170.43 L615,173.96 L614.93,177.49 Z" fill="#96e146"/>
<path d="M632.62,173.92 L632.5,171.28 L632.22,168.64 L631.93,166 L631.82,163.36 L631.74,160.14 L631.57,156.92 L631.39,153.69 L631.32,150.47 L631.2,147.25 L630.92,144.02 L630.63,140.8 L630.52,137.58 L630.46,134.23 L630.32,130.88 L630.17,127.54 L630.12,124.19 L630.22,121.7 L630.47,119.22 L630.71,116.73 L630.82,114.24 L630.9,112.37 L631.12,110.5 L631.33,108.63 L631.42,106.75 L631.52,103.1 L631.77,99.45 L632.01,95.79 L632.12,92.14 L632.17,85.36 L632.32,78.57 L632.46,71.78 L632.52,65 L633.52,65 L633.57,71.78 L633.72,78.57 L633.86,85.36 L633.92,92.14 L634.02,95.79 L634.27,99.45 L634.51,103.1 L634.62,106.75 L634.7,108.63 L634.92,110.5 L635.13,112.37 L635.22,114.24 L635.32,116.73 L635.57,119.22 L635.81,121.7 L635.92,124.19 L635.86,127.54 L635.72,130.88 L635.57,134.23 L635.52,137.58 L635.4,140.8 L635.12,144.02 L634.83,147.25 L634.72,150.47 L634.64,153.69 L634.47,156.92 L634.29,160.14 L634.22,163.36 L634.1,166 L633.82,168.64 L633.53,171.28 L633.42,173.92 Z" fill="#ea7243"/>
<path d="M651.1,177.49 L651.02,173.96 L650.8,170.43 L650.59,166.89 L650.5,163.36 L650.42,159.43 L650.2,155.5 L649.99,151.58 L649.9,147.65 L649.74,144.51 L649.35,141.38 L648.97,138.25 L648.8,135.12 L648.69,132.39 L648.4,129.66 L648.12,126.92 L648,124.19 L648.09,121.7 L648.3,119.22 L648.52,116.73 L648.6,114.24 L648.72,112.4 L649,110.56 L649.29,108.72 L649.4,106.88 L649.54,103.19 L649.85,99.51 L650.17,95.82 L650.3,92.14 L650.38,82.95 L650.55,73.77 L650.73,64.59 L650.8,55.4 L652,55.4 L652.08,64.59 L652.25,73.77 L652.43,82.95 L652.5,92.14 L652.64,95.82 L652.95,99.51 L653.27,103.19 L653.4,106.88 L653.52,108.72 L653.8,110.56 L654.09,112.4 L654.2,114.24 L654.29,116.73 L654.5,119.22 L654.72,121.7 L654.8,124.19 L654.69,126.92 L654.4,129.66 L654.12,132.39 L654,135.12 L653.84,138.25 L653.45,141.38 L653.07,144.51 L652.9,147.65 L652.82,151.58 L652.6,155.5 L652.39,159.43 L652.3,163.36 L652.22,166.89 L652,170.43 L651.79,173.96 L651.7,177.49 Z" fill="#57e3a0"/>
<path d="M669.49,162.14 L669.36,159.99 L669.04,157.84 L668.72,155.69 L668.59,153.54 L668.49,151.33 L668.24,149.12 L667.99,146.91 L667.89,144.7 L667.77,142.3 L667.49,139.91 L667.21,137.51 L667.09,135.12 L667.02,132.39 L666.84,129.66 L666.67,126.92 L666.59,124.19 L666.65,121.7 L666.79,119.22 L666.93,116.73 L666.99,114.24 L667.11,112.71 L667.39,111.17 L667.67,109.64 L667.79,108.1 L667.91,105.19 L668.19,102.27 L668.47,99.35 L668.59,96.44 L668.68,92.75 L668.89,89.07 L669.1,85.38 L669.19,81.7 L670.39,81.7 L670.48,85.38 L670.69,89.07 L670.9,92.75 L670.99,96.44 L671.11,99.35 L671.39,102.27 L671.67,105.19 L671.79,108.1 L671.91,109.64 L672.19,111.17 L672.47,112.71 L672.59,114.24 L672.65,116.73 L672.79,119.22 L672.93,121.7 L672.99,124.19 L672.92,126.92 L672.74,129.66 L672.57,132.39 L672.49,135.12 L672.37,137.51 L672.09,139.91 L671.81,142.3 L671.69,144.7 L671.59,146.91 L671.34,149.12 L671.09,151.33 L670.99,153.54 L670.86,155.69 L670.54,157.84 L670.22,159.99 L670.09,162.14 Z" fill="#3e6686"/>
<line x1="44.6" y1="163.4" x2="44.6" y2="171.7" stroke="#000" stroke-width="1.5"/>
<circle cx="44.6" cy="169.1" r="2.7" fill="#000"/>
<line x1="62.99" y1="166.5" x2="62.99" y2="171" stroke="#000" stroke-width="1.5"/>
<circle cx="62.99" cy="168.8" r="2.7" fill="#000"/>
<line x1="81.38" y1="162.9" x2="81.38" y2="171.2" stroke="#000" stroke-width="1.5"/>
<circle cx="81.38" cy="167.7" r="2.7" fill="#000"/>
<line x1="99.76" y1="161" x2="99.76" y2="169.3" stroke="#000" stroke-width="1.5"/>
<circle cx="99.76" cy="165.1" r="2.7" fill="#000"/>
<line x1="118.15" y1="160.5" x2="118.15" y2="169.5" stroke="#000" stroke-width="1.5"/>
<circle cx="118.15" cy="165.1" r="2.7" fill="#000"/>
<line x1="136.54" y1="155.2" x2="136.54" y2="178" stroke="#000" stroke-width="1.5"/>
<circle cx="136.54" cy="164.3" r="2.7" fill="#000"/>
<line x1="154.93" y1="153.5" x2="154.93" y2="167.4" stroke="#000" stroke-width="1.5"/>
<circle cx="154.93" cy="161.7" r="2.7" fill="#000"/>
<line x1="173.32" y1="150.9" x2="173.32" y2="167.4" stroke="#000" stroke-width="1.5"/>
<circle cx="173.32" cy="160.4" r="2.7" fill="#000"/>
<line x1="191.7" y1="155.2" x2="191.7" y2="164.4" stroke="#000" stroke-width="1.5"/>
<circle cx="191.7" cy="160.1" r="2.7" fill="#000"/>
<line x1="210.09" y1="157" x2="210.09" y2="165.5" stroke="#000" stroke-width="1.5"/>
<circle cx="210.09" cy="160.1" r="2.7" fill="#000"/>
<line x1="228.48" y1="141.4" x2="228.48" y2="170.8" stroke="#000" stroke-width="1.5"/>
<circle cx="228.48" cy="159.2" r="2.7" fill="#000"/>
<line x1="246.87" y1="147.5" x2="246.87" y2="169.6" stroke="#000" stroke-width="1.5"/>
<circle cx="246.87" cy="159.2" r="2.7" fill="#000"/>
<line x1="265.26" y1="140.2" x2="265.26" y2="165.6" stroke="#000" stroke-width="1.5"/>
<circle cx="265.26" cy="156.5" r="2.7" fill="#000"/>
<line x1="283.64" y1="149.2" x2="283.64" y2="163.4" stroke="#000" stroke-width="1.5"/>
<circle cx="283.64" cy="156.1" r="2.7" fill="#000"/>
<line x1="302.03" y1="151.4" x2="302.03" y2="163.4" stroke="#000" stroke-width="1.5"/>
<circle cx="302.03" cy="156.5" r="2.7" fill="#000"/>
<line x1="320.42" y1="151.8" x2="320.42" y2="161.3" stroke="#000" stroke-width="1.5"/>
<circle cx="320.42" cy="155.8" r="2.7" fill="#000"/>
<line x1="338.81" y1="144.5" x2="338.81" y2="162.2" stroke="#000" stroke-width="1.5"/>
<circle cx="338.81" cy="154.9" r="2.7" fill="#000"/>
<line x1="357.2" y1="147.8" x2="357.2" y2="162.7" stroke="#000" stroke-width="1.5"/>
<circle cx="357.2" cy="154.4" r="2.7" fill="#000"/>
<line x1="375.58" y1="144.3" x2="375.58" y2="163.9" stroke="#000" stroke-width="1.5"/>
<circle cx="375.58" cy="153.5" r="2.7" fill="#000"/>
<line x1="393.97" y1="144" x2="393.97" y2="160.2" stroke="#000" stroke-width="1.5"/>
<circle cx="393.97" cy="151.8" r="2.7" fill="#000"/>
<line x1="412.36" y1="142.6" x2="412.36" y2="158.7" stroke="#000" stroke-width="1.5"/>
<circle cx="412.36" cy="150.6" r="2.7" fill="#000"/>
<line x1="430.75" y1="140.2" x2="430.75" y2="159.6" stroke="#000" stroke-width="1.5"/>
<circle cx="430.75" cy="150.6" r="2.7" fill="#000"/>
<line x1="449.14" y1="140.2" x2="449.14" y2="158.7" stroke="#000" stroke-width="1.5"/>
<circle cx="449.14" cy="149.7" r="2.7" fill="#000"/>
<line x1="467.52" y1="137.4" x2="467.52" y2="157.9" stroke="#000" stroke-width="1.5"/>
<circle cx="467.52" cy="147.8" r="2.7" fill="#000"/>
<line x1="485.91" y1="140.9" x2="485.91" y2="153.5" stroke="#000" stroke-width="1.5"/>
<circle cx="485.91" cy="146.2" r="2.7" fill="#000"/>
<line x1="504.3" y1="136.2" x2="504.3" y2="157.5" stroke="#000" stroke-width="1.5"/>
<circle cx="504.3" cy="144.9" r="2.7" fill="#000"/>
<line x1="522.69" y1="130.1" x2="522.69" y2="150.9" stroke="#000" stroke-width="1.5"/>
<circle cx="522.69" cy="141" r="2.7" fill="#000"/>
<line x1="541.08" y1="130.1" x2="541.08" y2="151.4" stroke="#000" stroke-width="1.5"/>
<circle cx="541.08" cy="140.9" r="2.7" fill="#000"/>
<line x1="559.46" y1="126.3" x2="559.46" y2="148.8" stroke="#000" stroke-width="1.5"/>
<circle cx="559.46" cy="137.6" r="2.7" fill="#000"/>
<line x1="577.85" y1="125.8" x2="577.85" y2="145.5" stroke="#000" stroke-width="1.5"/>
<circle cx="577.85" cy="136.9" r="2.7" fill="#000"/>
<line x1="596.24" y1="127.6" x2="596.24" y2="146" stroke="#000" stroke-width="1.5"/>
<circle cx="596.24" cy="136.9" r="2.7" fill="#000"/>
<line x1="614.63" y1="121.1" x2="614.63" y2="136.4" stroke="#000" stroke-width="1.5"/>
<circle cx="614.63" cy="129.3" r="2.7" fill="#000"/>
<line x1="633.02" y1="119.2" x2="633.02" y2="141.6" stroke="#000" stroke-width="1.5"/>
<circle cx="633.02" cy="128.5" r="2.7" fill="#000"/>
<line x1="651.4" y1="118.8" x2="651.4" y2="138.5" stroke="#000" stroke-width="1.5"/>
<circle cx="651.4" cy="127.2" r="2.7" fill="#000"/>
<line x1="669.79" y1="118" x2="669.79" y2="133.2" stroke="#000" stroke-width="1.5"/>
<circle cx="669.79" cy="125.3" r="2.7" fill="#000"/>
<line x1="33.45" y1="162.1" x2="680" y2="162.1" stroke="#e8111a" stroke-width="1.9" stroke-dasharray="1.9 4.35"/>
<text x="44.6" y="52.1" font-size="6.8" font-weight="bold" fill="#111" text-anchor="middle">78%</text>
<text x="62.99" y="104.4" font-size="6.8" font-weight="bold" fill="#111" text-anchor="middle">91%</text>
<text x="81.38" y="117.9" font-size="6.8" font-weight="bold" fill="#111" text-anchor="middle">77%</text>
<text x="99.76" y="120.3" font-size="6.8" font-weight="bold" fill="#111" text-anchor="middle">70%</text>
<text x="118.15" y="113.1" font-size="6.8" font-weight="bold" fill="#111" text-anchor="middle">67%</text>
<text x="136.54" y="113.1" font-size="6.8" font-weight="bold" fill="#111" text-anchor="middle">59%</text>
<text x="154.93" y="72.3" font-size="6.8" font-weight="bold" fill="#111" text-anchor="middle">50%</text>
<text x="173.32" y="113.1" font-size="6.8" font-weight="bold" fill="#111" text-anchor="middle">45%</text>
<text x="191.7" y="52.1" font-size="6.8" font-weight="bold" fill="#111" text-anchor="middle">44%</text>
<text x="210.09" y="108.7" font-size="6.8" font-weight="bold" fill="#111" text-anchor="middle">40%</text>
<text x="228.48" y="52.1" font-size="6.8" font-weight="bold" fill="#111" text-anchor="middle">44%</text>
<text x="246.87" y="52.1" font-size="6.8" font-weight="bold" fill="#111" text-anchor="middle">44%</text>
<text x="265.26" y="52.1" font-size="6.8" font-weight="bold" fill="#111" text-anchor="middle">37%</text>
<text x="283.64" y="73.5" font-size="6.8" font-weight="bold" fill="#111" text-anchor="middle">34%</text>
<text x="302.03" y="74.1" font-size="6.8" font-weight="bold" fill="#111" text-anchor="middle">34%</text>
<text x="320.42" y="131.3" font-size="6.8" font-weight="bold" fill="#111" text-anchor="middle">28%</text>
<text x="338.81" y="104" font-size="6.8" font-weight="bold" fill="#111" text-anchor="middle">26%</text>
<text x="357.2" y="79.8" font-size="6.8" font-weight="bold" fill="#111" text-anchor="middle">27%</text>
<text x="375.58" y="52.1" font-size="6.8" font-weight="bold" fill="#111" text-anchor="middle">33%</text>
<text x="393.97" y="110.5" font-size="6.8" font-weight="bold" fill="#111" text-anchor="middle">21%</text>
<text x="412.36" y="100.9" font-size="6.8" font-weight="bold" fill="#111" text-anchor="middle">15%</text>
<text x="430.75" y="57.3" font-size="6.8" font-weight="bold" fill="#111" text-anchor="middle">18%</text>
<text x="449.14" y="96.6" font-size="6.8" font-weight="bold" fill="#111" text-anchor="middle">19%</text>
<text x="467.52" y="96.2" font-size="6.8" font-weight="bold" fill="#111" text-anchor="middle">13%</text>
<text x="485.91" y="111" font-size="6.8" font-weight="bold" fill="#111" text-anchor="middle">0%</text>
<text x="504.3" y="83.2" font-size="6.8" font-weight="bold" fill="#111" text-anchor="middle">15%</text>
<text x="522.69" y="67.1" font-size="6.8" font-weight="bold" fill="#111" text-anchor="middle">8.3%</text>
<text x="541.08" y="100.9" font-size="6.8" font-weight="bold" fill="#111" text-anchor="middle">0%</text>
<text x="559.46" y="93.1" font-size="6.8" font-weight="bold" fill="#111" text-anchor="middle">7.3%</text>
<text x="577.85" y="52.2" font-size="6.8" font-weight="bold" fill="#111" text-anchor="middle">2.5%</text>
<text x="596.24" y="68" font-size="6.8" font-weight="bold" fill="#111" text-anchor="middle">5.5%</text>
<text x="614.63" y="76.7" font-size="6.8" font-weight="bold" fill="#111" text-anchor="middle">0.67%</text>
<text x="633.02" y="61.8" font-size="6.8" font-weight="bold" fill="#111" text-anchor="middle">6.8%</text>
<text x="651.4" y="52.2" font-size="6.8" font-weight="bold" fill="#111" text-anchor="middle">5.1%</text>
<text x="669.79" y="78.5" font-size="6.8" font-weight="bold" fill="#111" text-anchor="middle">0.25%</text>
<line x1="385" y1="38.8" x2="385" y2="178.6" stroke="#ff0000" stroke-width="2.2"/>
<line x1="33.5" y1="43.5" x2="33.5" y2="184.3" stroke="#000" stroke-width="1"/>
<line x1="30.8" y1="178.1" x2="33.5" y2="178.1" stroke="#333" stroke-width="0.9"/>
<text x="29.8" y="181.2" font-size="8.6" font-weight="bold" fill="#4d4d4d" text-anchor="end">0</text>
<line x1="30.8" y1="147.4" x2="33.5" y2="147.4" stroke="#333" stroke-width="0.9"/>
<text x="29.8" y="150.5" font-size="8.6" font-weight="bold" fill="#4d4d4d" text-anchor="end">25</text>
<line x1="30.8" y1="116.7" x2="33.5" y2="116.7" stroke="#333" stroke-width="0.9"/>
<text x="29.8" y="119.8" font-size="8.6" font-weight="bold" fill="#4d4d4d" text-anchor="end">50</text>
<line x1="30.8" y1="86" x2="33.5" y2="86" stroke="#333" stroke-width="0.9"/>
<text x="29.8" y="89.1" font-size="8.6" font-weight="bold" fill="#4d4d4d" text-anchor="end">75</text>
<line x1="30.8" y1="55.3" x2="33.5" y2="55.3" stroke="#333" stroke-width="0.9"/>
<text x="29.8" y="58.4" font-size="8.6" font-weight="bold" fill="#4d4d4d" text-anchor="end">100</text>
<line x1="44.6" y1="184.4" x2="44.6" y2="186.5" stroke="#555" stroke-width="0.8"/>
<text transform="translate(50.9 229) rotate(-90)" font-size="8.5" font-weight="bold" fill="#4d4d4d" text-anchor="middle">LUAD</text>
<line x1="62.99" y1="184.4" x2="62.99" y2="186.5" stroke="#555" stroke-width="0.8"/>
<text transform="translate(69.29 229) rotate(-90)" font-size="8.5" font-weight="bold" fill="#4d4d4d" text-anchor="middle">LUSC</text>
<line x1="81.38" y1="184.4" x2="81.38" y2="186.5" stroke="#555" stroke-width="0.8"/>
<text transform="translate(87.68 229) rotate(-90)" font-size="8.5" font-weight="bold" fill="#4d4d4d" text-anchor="middle">KIRP</text>
<line x1="99.76" y1="184.4" x2="99.76" y2="186.5" stroke="#555" stroke-width="0.8"/>
<text transform="translate(106.06 229) rotate(-90)" font-size="8.5" font-weight="bold" fill="#4d4d4d" text-anchor="middle">LIHC</text>
<line x1="118.15" y1="184.4" x2="118.15" y2="186.5" stroke="#555" stroke-width="0.8"/>
<text transform="translate(124.45 229) rotate(-90)" font-size="8.5" font-weight="bold" fill="#4d4d4d" text-anchor="middle">KIRC</text>
<line x1="136.54" y1="184.4" x2="136.54" y2="186.5" stroke="#555" stroke-width="0.8"/>
<text transform="translate(142.84 229) rotate(-90)" font-size="8.5" font-weight="bold" fill="#4d4d4d" text-anchor="middle">TGCT</text>
<line x1="154.93" y1="184.4" x2="154.93" y2="186.5" stroke="#555" stroke-width="0.8"/>
<text transform="translate(161.23 229) rotate(-90)" font-size="8.5" font-weight="bold" fill="#4d4d4d" text-anchor="middle">OV</text>
<line x1="173.32" y1="184.4" x2="173.32" y2="186.5" stroke="#555" stroke-width="0.8"/>
<text transform="translate(179.62 229) rotate(-90)" font-size="8.5" font-weight="bold" fill="#4d4d4d" text-anchor="middle">BRCA TN</text>
<line x1="191.7" y1="184.4" x2="191.7" y2="186.5" stroke="#555" stroke-width="0.8"/>
<text transform="translate(198 229) rotate(-90)" font-size="8.5" font-weight="bold" fill="#4d4d4d" text-anchor="middle">BLCA</text>
<line x1="210.09" y1="184.4" x2="210.09" y2="186.5" stroke="#555" stroke-width="0.8"/>
<text transform="translate(216.39 229) rotate(-90)" font-size="8.5" font-weight="bold" fill="#4d4d4d" text-anchor="middle">SKCM</text>
<line x1="228.48" y1="184.4" x2="228.48" y2="186.5" stroke="#555" stroke-width="0.8"/>
<text transform="translate(234.78 229) rotate(-90)" font-size="8.5" font-weight="bold" fill="#4d4d4d" text-anchor="middle">LAML</text>
<line x1="246.87" y1="184.4" x2="246.87" y2="186.5" stroke="#555" stroke-width="0.8"/>
<text transform="translate(253.17 229) rotate(-90)" font-size="8.5" font-weight="bold" fill="#4d4d4d" text-anchor="middle">THCA</text>
<line x1="265.26" y1="184.4" x2="265.26" y2="186.5" stroke="#555" stroke-width="0.8"/>
<text transform="translate(271.56 229) rotate(-90)" font-size="8.5" font-weight="bold" fill="#4d4d4d" text-anchor="middle">PCPG</text>
<line x1="283.64" y1="184.4" x2="283.64" y2="186.5" stroke="#555" stroke-width="0.8"/>
<text transform="translate(289.94 229) rotate(-90)" font-size="8.5" font-weight="bold" fill="#4d4d4d" text-anchor="middle">ACC</text>
<line x1="302.03" y1="184.4" x2="302.03" y2="186.5" stroke="#555" stroke-width="0.8"/>
<text transform="translate(308.33 229) rotate(-90)" font-size="8.5" font-weight="bold" fill="#4d4d4d" text-anchor="middle">MESO</text>
<line x1="320.42" y1="184.4" x2="320.42" y2="186.5" stroke="#555" stroke-width="0.8"/>
<text transform="translate(326.72 229) rotate(-90)" font-size="8.5" font-weight="bold" fill="#4d4d4d" text-anchor="middle">CHOL</text>
<line x1="338.81" y1="184.4" x2="338.81" y2="186.5" stroke="#555" stroke-width="0.8"/>
<text transform="translate(345.11 229) rotate(-90)" font-size="8.5" font-weight="bold" fill="#4d4d4d" text-anchor="middle">HNSC</text>
<line x1="357.2" y1="184.4" x2="357.2" y2="186.5" stroke="#555" stroke-width="0.8"/>
<text transform="translate(363.5 229) rotate(-90)" font-size="8.5" font-weight="bold" fill="#4d4d4d" text-anchor="middle">SARC</text>
<line x1="375.58" y1="184.4" x2="375.58" y2="186.5" stroke="#555" stroke-width="0.8"/>
<text transform="translate(381.88 229) rotate(-90)" font-size="8.5" font-weight="bold" fill="#4d4d4d" text-anchor="middle">THYM</text>
<line x1="393.97" y1="184.4" x2="393.97" y2="186.5" stroke="#555" stroke-width="0.8"/>
<text transform="translate(400.27 229) rotate(-90)" font-size="8.5" font-weight="bold" fill="#4d4d4d" text-anchor="middle">BRCA (HER2+)</text>
<line x1="412.36" y1="184.4" x2="412.36" y2="186.5" stroke="#555" stroke-width="0.8"/>
<text transform="translate(418.66 229) rotate(-90)" font-size="8.5" font-weight="bold" fill="#4d4d4d" text-anchor="middle">ESCA</text>
<line x1="430.75" y1="184.4" x2="430.75" y2="186.5" stroke="#555" stroke-width="0.8"/>
<text transform="translate(437.05 229) rotate(-90)" font-size="8.5" font-weight="bold" fill="#4d4d4d" text-anchor="middle">UVM</text>
<line x1="449.14" y1="184.4" x2="449.14" y2="186.5" stroke="#555" stroke-width="0.8"/>
<text transform="translate(455.44 229) rotate(-90)" font-size="8.5" font-weight="bold" fill="#4d4d4d" text-anchor="middle">BRCA (HR+/HER2–)</text>
<line x1="467.52" y1="184.4" x2="467.52" y2="186.5" stroke="#555" stroke-width="0.8"/>
<text transform="translate(473.82 229) rotate(-90)" font-size="8.5" font-weight="bold" fill="#4d4d4d" text-anchor="middle">CESC</text>
<line x1="485.91" y1="184.4" x2="485.91" y2="186.5" stroke="#555" stroke-width="0.8"/>
<text transform="translate(492.21 229) rotate(-90)" font-size="8.5" font-weight="bold" fill="#4d4d4d" text-anchor="middle">DLBC</text>
<line x1="504.3" y1="184.4" x2="504.3" y2="186.5" stroke="#555" stroke-width="0.8"/>
<text transform="translate(510.6 229) rotate(-90)" font-size="8.5" font-weight="bold" fill="#4d4d4d" text-anchor="middle">KICH</text>
<line x1="522.69" y1="184.4" x2="522.69" y2="186.5" stroke="#555" stroke-width="0.8"/>
<text transform="translate(528.99 229) rotate(-90)" font-size="8.5" font-weight="bold" fill="#4d4d4d" text-anchor="middle">PRAD</text>
<line x1="541.08" y1="184.4" x2="541.08" y2="186.5" stroke="#555" stroke-width="0.8"/>
<text transform="translate(547.38 229) rotate(-90)" font-size="8.5" font-weight="bold" fill="#4d4d4d" text-anchor="middle">UCS</text>
<line x1="559.46" y1="184.4" x2="559.46" y2="186.5" stroke="#555" stroke-width="0.8"/>
<text transform="translate(565.76 229) rotate(-90)" font-size="8.5" font-weight="bold" fill="#4d4d4d" text-anchor="middle">STAD</text>
<line x1="577.85" y1="184.4" x2="577.85" y2="186.5" stroke="#555" stroke-width="0.8"/>
<text transform="translate(584.15 229) rotate(-90)" font-size="8.5" font-weight="bold" fill="#4d4d4d" text-anchor="middle">LGG</text>
<line x1="596.24" y1="184.4" x2="596.24" y2="186.5" stroke="#555" stroke-width="0.8"/>
<text transform="translate(602.54 229) rotate(-90)" font-size="8.5" font-weight="bold" fill="#4d4d4d" text-anchor="middle">UCEC</text>
<line x1="614.63" y1="184.4" x2="614.63" y2="186.5" stroke="#555" stroke-width="0.8"/>
<text transform="translate(620.93 229) rotate(-90)" font-size="8.5" font-weight="bold" fill="#4d4d4d" text-anchor="middle">READ</text>
<line x1="633.02" y1="184.4" x2="633.02" y2="186.5" stroke="#555" stroke-width="0.8"/>
<text transform="translate(639.32 229) rotate(-90)" font-size="8.5" font-weight="bold" fill="#4d4d4d" text-anchor="middle">GBM</text>
<line x1="651.4" y1="184.4" x2="651.4" y2="186.5" stroke="#555" stroke-width="0.8"/>
<text transform="translate(657.7 229) rotate(-90)" font-size="8.5" font-weight="bold" fill="#4d4d4d" text-anchor="middle">PAAD</text>
<line x1="669.79" y1="184.4" x2="669.79" y2="186.5" stroke="#555" stroke-width="0.8"/>
<text transform="translate(676.09 229) rotate(-90)" font-size="8.5" font-weight="bold" fill="#4d4d4d" text-anchor="middle">COAD</text>
<text transform="translate(9.6 130.6) rotate(-90)" font-size="8.7" font-weight="bold" fill="#000" text-anchor="start">f</text>
<text transform="translate(11.8 127.6) rotate(-90)" font-size="6.3" font-weight="bold" fill="#000" text-anchor="start" textLength="14.6" lengthAdjust="spacingAndGlyphs">deam</text>
<text transform="translate(9.6 110) rotate(-90)" font-size="8.7" font-weight="bold" fill="#000" text-anchor="start" textLength="13" lengthAdjust="spacingAndGlyphs">(%)</text>
<text x="9.8" y="17.2" font-size="24" font-weight="bold" fill="#000" text-anchor="start" textLength="16.6" lengthAdjust="spacingAndGlyphs" stroke="#000" stroke-width="0.5">A</text>
<text x="180.8" y="29.2" font-size="16.2" font-weight="bold" fill="#000" text-anchor="start" textLength="26.6" lengthAdjust="spacingAndGlyphs" stroke="#000" stroke-width="0.35">low</text>
<text x="212.3" y="29.2" font-size="16.2" font-weight="bold" fill="#000" text-anchor="start" textLength="5.4" lengthAdjust="spacingAndGlyphs" stroke="#000" stroke-width="0.35">f</text>
<text x="217.5" y="32.6" font-size="11.3" font-weight="bold" fill="#000" text-anchor="start" textLength="26.7" lengthAdjust="spacingAndGlyphs" stroke="#000" stroke-width="0.35">deam</text>
<text x="247.7" y="29.2" font-size="16.2" font-weight="bold" fill="#000" text-anchor="start" textLength="54.6" lengthAdjust="spacingAndGlyphs" stroke="#000" stroke-width="0.35">entities</text>
<text x="460.8" y="29.4" font-size="16.2" font-weight="bold" fill="#000" text-anchor="start" textLength="29.2" lengthAdjust="spacingAndGlyphs" stroke="#000" stroke-width="0.35">high</text>
<text x="495.3" y="29.4" font-size="16.2" font-weight="bold" fill="#000" text-anchor="start" textLength="5.8" lengthAdjust="spacingAndGlyphs" stroke="#000" stroke-width="0.35">f</text>
<text x="501.1" y="33" font-size="11.3" font-weight="bold" fill="#000" text-anchor="start" textLength="26.9" lengthAdjust="spacingAndGlyphs" stroke="#000" stroke-width="0.35">deam</text>
<text x="531.5" y="29.4" font-size="16.2" font-weight="bold" fill="#000" text-anchor="start" textLength="54.5" lengthAdjust="spacingAndGlyphs" stroke="#000" stroke-width="0.35">entities</text>
<text x="12.2" y="284" font-size="23.4" font-weight="bold" fill="#000" text-anchor="start" textLength="13.6" lengthAdjust="spacingAndGlyphs" stroke="#000" stroke-width="0.8">B</text>
<rect x="69.3" y="316.75" width="13.3" height="184.55" fill="#f38a63" stroke="#ef4f14" stroke-width="1"/>
<rect x="82.6" y="311.45" width="13.3" height="189.85" fill="#64c0e0" stroke="#20a5d8" stroke-width="1"/>
<rect x="98.86" y="330.15" width="13.3" height="171.15" fill="#f38a63" stroke="#ef4f14" stroke-width="1"/>
<rect x="112.16" y="323.75" width="13.3" height="177.55" fill="#64c0e0" stroke="#20a5d8" stroke-width="1"/>
<rect x="128.42" y="402.25" width="13.3" height="99.05" fill="#f38a63" stroke="#ef4f14" stroke-width="1"/>
<rect x="141.72" y="377.75" width="13.3" height="123.55" fill="#64c0e0" stroke="#20a5d8" stroke-width="1"/>
<rect x="157.98" y="339.75" width="13.3" height="161.55" fill="#f38a63" stroke="#ef4f14" stroke-width="1"/>
<rect x="171.28" y="436.45" width="13.3" height="64.85" fill="#64c0e0" stroke="#20a5d8" stroke-width="1"/>
<rect x="187.54" y="350.85" width="13.3" height="150.45" fill="#f38a63" stroke="#ef4f14" stroke-width="1"/>
<rect x="200.84" y="364.35" width="13.3" height="136.95" fill="#64c0e0" stroke="#20a5d8" stroke-width="1"/>
<rect x="217.1" y="373.95" width="13.3" height="127.35" fill="#f38a63" stroke="#ef4f14" stroke-width="1"/>
<rect x="230.4" y="355.55" width="13.3" height="145.75" fill="#64c0e0" stroke="#20a5d8" stroke-width="1"/>
<rect x="246.66" y="351.75" width="13.3" height="149.55" fill="#f38a63" stroke="#ef4f14" stroke-width="1"/>
<rect x="259.96" y="385.95" width="13.3" height="115.35" fill="#64c0e0" stroke="#20a5d8" stroke-width="1"/>
<rect x="276.22" y="377.45" width="13.3" height="123.85" fill="#f38a63" stroke="#ef4f14" stroke-width="1"/>
<rect x="289.52" y="357.05" width="13.3" height="144.25" fill="#64c0e0" stroke="#20a5d8" stroke-width="1"/>
<rect x="305.78" y="339.25" width="13.3" height="162.05" fill="#f38a63" stroke="#ef4f14" stroke-width="1"/>
<rect x="319.08" y="331.95" width="13.3" height="169.35" fill="#64c0e0" stroke="#20a5d8" stroke-width="1"/>
<rect x="335.34" y="335.75" width="13.3" height="165.55" fill="#f38a63" stroke="#ef4f14" stroke-width="1"/>
<rect x="348.64" y="312.05" width="13.3" height="189.25" fill="#64c0e0" stroke="#20a5d8" stroke-width="1"/>
<rect x="364.9" y="374.85" width="13.3" height="126.45" fill="#f38a63" stroke="#ef4f14" stroke-width="1"/>
<rect x="378.2" y="319.65" width="13.3" height="181.65" fill="#64c0e0" stroke="#20a5d8" stroke-width="1"/>
<rect x="394.46" y="357.65" width="13.3" height="143.65" fill="#f38a63" stroke="#ef4f14" stroke-width="1"/>
<rect x="407.76" y="349.75" width="13.3" height="151.55" fill="#64c0e0" stroke="#20a5d8" stroke-width="1"/>
<rect x="424.02" y="413.05" width="13.3" height="88.25" fill="#f38a63" stroke="#ef4f14" stroke-width="1"/>
<rect x="437.32" y="369.55" width="13.3" height="131.75" fill="#64c0e0" stroke="#20a5d8" stroke-width="1"/>
<rect x="453.58" y="350.35" width="13.3" height="150.95" fill="#f38a63" stroke="#ef4f14" stroke-width="1"/>
<rect x="466.88" y="331.65" width="13.3" height="169.65" fill="#64c0e0" stroke="#20a5d8" stroke-width="1"/>
<rect x="483.14" y="420.35" width="13.3" height="80.95" fill="#f38a63" stroke="#ef4f14" stroke-width="1"/>
<rect x="496.44" y="414.85" width="13.3" height="86.45" fill="#64c0e0" stroke="#20a5d8" stroke-width="1"/>
<rect x="512.7" y="399.95" width="13.3" height="101.35" fill="#f38a63" stroke="#ef4f14" stroke-width="1"/>
<rect x="526" y="424.75" width="13.3" height="76.55" fill="#64c0e0" stroke="#20a5d8" stroke-width="1"/>
<rect x="542.26" y="369.25" width="13.3" height="132.05" fill="#f38a63" stroke="#ef4f14" stroke-width="1"/>
<rect x="555.56" y="374.55" width="13.3" height="126.75" fill="#64c0e0" stroke="#20a5d8" stroke-width="1"/>
<path d="M72.15 307.5H79.75M75.95 307.5V325.6M72.15 325.6H79.75" stroke="#111" stroke-width="1.6" fill="none"/>
<path d="M85.45 307.5H93.05M89.25 307.5V316.9M85.45 316.9H93.05" stroke="#111" stroke-width="1.6" fill="none"/>
<path d="M101.71 322.1H109.31M105.51 322.1V337.3M101.71 337.3H109.31" stroke="#111" stroke-width="1.6" fill="none"/>
<path d="M115.01 314.8H122.61M118.81 314.8V332.3M115.01 332.3H122.61" stroke="#111" stroke-width="1.6" fill="none"/>
<path d="M131.27 339H138.87M135.07 339V465.2M131.27 465.2H138.87" stroke="#111" stroke-width="1.6" fill="none"/>
<path d="M144.57 320H152.17M148.37 320V434.8M144.57 434.8H152.17" stroke="#111" stroke-width="1.6" fill="none"/>
<path d="M160.83 307.5H168.43M164.63 307.5V372M160.83 372H168.43" stroke="#111" stroke-width="1.6" fill="none"/>
<path d="M174.13 309.9H181.73M177.93 309.9V501.1M174.13 501.1H181.73" stroke="#111" stroke-width="1.6" fill="none"/>
<path d="M190.39 321.2H197.99M194.19 321.2V379.6M190.39 379.6H197.99" stroke="#111" stroke-width="1.6" fill="none"/>
<path d="M203.69 325.9H211.29M207.49 325.9V401.8M203.69 401.8H211.29" stroke="#111" stroke-width="1.6" fill="none"/>
<path d="M219.95 323.3H227.55M223.75 323.3V424.3M219.95 424.3H227.55" stroke="#111" stroke-width="1.6" fill="none"/>
<path d="M233.25 311H240.85M237.05 311V399.8M233.25 399.8H240.85" stroke="#111" stroke-width="1.6" fill="none"/>
<path d="M249.51 318.3H257.11M253.31 318.3V384.3M249.51 384.3H257.11" stroke="#111" stroke-width="1.6" fill="none"/>
<path d="M262.81 309.9H270.41M266.61 309.9V462M262.81 462H270.41" stroke="#111" stroke-width="1.6" fill="none"/>
<path d="M279.07 340.8H286.67M282.87 340.8V413.2M279.07 413.2H286.67" stroke="#111" stroke-width="1.6" fill="none"/>
<path d="M292.37 321.8H299.97M296.17 321.8V391.6M292.37 391.6H299.97" stroke="#111" stroke-width="1.6" fill="none"/>
<path d="M308.63 328H316.23M312.43 328V349.6M308.63 349.6H316.23" stroke="#111" stroke-width="1.6" fill="none"/>
<path d="M321.93 322.7H329.53M325.73 322.7V340.2M321.93 340.2H329.53" stroke="#111" stroke-width="1.6" fill="none"/>
<path d="M338.19 317.4H345.79M341.99 317.4V353.4M338.19 353.4H345.79" stroke="#111" stroke-width="1.6" fill="none"/>
<path d="M351.49 307.5H359.09M355.29 307.5V317.7M351.49 317.7H359.09" stroke="#111" stroke-width="1.6" fill="none"/>
<path d="M367.75 307.5H375.35M371.55 307.5V456.1M367.75 456.1H375.35" stroke="#111" stroke-width="1.6" fill="none"/>
<path d="M381.05 307.5H388.65M384.85 307.5V333.8M381.05 333.8H388.65" stroke="#111" stroke-width="1.6" fill="none"/>
<path d="M397.31 324.7H404.91M401.11 324.7V389.3M397.31 389.3H404.91" stroke="#111" stroke-width="1.6" fill="none"/>
<path d="M410.61 321H418.21M414.41 321V377.3M410.61 377.3H418.21" stroke="#111" stroke-width="1.6" fill="none"/>
<path d="M426.87 387.2H434.47M430.67 387.2V438M426.87 438H434.47" stroke="#111" stroke-width="1.6" fill="none"/>
<path d="M440.17 307.5H447.77M443.97 307.5V458.5M440.17 458.5H447.77" stroke="#111" stroke-width="1.6" fill="none"/>
<path d="M456.43 307.5H464.03M460.23 307.5V393.9M456.43 393.9H464.03" stroke="#111" stroke-width="1.6" fill="none"/>
<path d="M469.73 313.4H477.33M473.53 313.4V349M469.73 349H477.33" stroke="#111" stroke-width="1.6" fill="none"/>
<path d="M485.99 397.2H493.59M489.79 397.2V442.7M485.99 442.7H493.59" stroke="#111" stroke-width="1.6" fill="none"/>
<path d="M499.29 386.6H506.89M503.09 386.6V442.4M499.29 442.4H506.89" stroke="#111" stroke-width="1.6" fill="none"/>
<path d="M515.55 336.7H523.15M519.35 336.7V462.6M515.55 462.6H523.15" stroke="#111" stroke-width="1.6" fill="none"/>
<path d="M528.85 393.1H536.45M532.65 393.1V455.5M528.85 455.5H536.45" stroke="#111" stroke-width="1.6" fill="none"/>
<path d="M545.11 331.8H552.71M548.91 331.8V406.8M545.11 406.8H552.71" stroke="#111" stroke-width="1.6" fill="none"/>
<path d="M558.41 331.8H566.01M562.21 331.8V416.4M558.41 416.4H566.01" stroke="#111" stroke-width="1.6" fill="none"/>
<line x1="65" y1="298.3" x2="65" y2="510.3" stroke="#333" stroke-width="1.1"/>
<line x1="62.3" y1="307.4" x2="65" y2="307.4" stroke="#333" stroke-width="1"/>
<text x="60.2" y="311.2" font-size="10.4" font-weight="bold" fill="#4d4d4d" text-anchor="end">1.00</text>
<line x1="62.3" y1="355.88" x2="65" y2="355.88" stroke="#333" stroke-width="1"/>
<text x="60.2" y="359.68" font-size="10.4" font-weight="bold" fill="#4d4d4d" text-anchor="end">0.75</text>
<line x1="62.3" y1="404.35" x2="65" y2="404.35" stroke="#333" stroke-width="1"/>
<text x="60.2" y="408.15" font-size="10.4" font-weight="bold" fill="#4d4d4d" text-anchor="end">0.50</text>
<line x1="62.3" y1="452.82" x2="65" y2="452.82" stroke="#333" stroke-width="1"/>
<text x="60.2" y="456.62" font-size="10.4" font-weight="bold" fill="#4d4d4d" text-anchor="end">0.25</text>
<line x1="62.3" y1="501.3" x2="65" y2="501.3" stroke="#333" stroke-width="1"/>
<text x="60.2" y="505.1" font-size="10.4" font-weight="bold" fill="#4d4d4d" text-anchor="end">0.00</text>
<text x="0" y="0" font-size="1" font-weight="normal" fill="#000" text-anchor="start"></text>
<text transform="translate(35 404) rotate(-90)" font-size="12.8" font-weight="bold" fill="#000" text-anchor="middle" textLength="26" lengthAdjust="spacingAndGlyphs">AUC</text>
<line x1="82.6" y1="510.8" x2="82.6" y2="513.2" stroke="#555" stroke-width="0.8"/>
<text transform="translate(90.6 530.9) rotate(-90)" font-size="10.6" font-weight="bold" fill="#4d4d4d" text-anchor="middle">BLCA</text>
<line x1="112.16" y1="510.8" x2="112.16" y2="513.2" stroke="#555" stroke-width="0.8"/>
<text transform="translate(120.16 530.9) rotate(-90)" font-size="10.6" font-weight="bold" fill="#4d4d4d" text-anchor="middle">BRCA</text>
<line x1="141.72" y1="510.8" x2="141.72" y2="513.2" stroke="#555" stroke-width="0.8"/>
<text transform="translate(149.72 530.9) rotate(-90)" font-size="10.6" font-weight="bold" fill="#4d4d4d" text-anchor="middle">CESC</text>
<line x1="171.28" y1="510.8" x2="171.28" y2="513.2" stroke="#555" stroke-width="0.8"/>
<text transform="translate(179.28 530.9) rotate(-90)" font-size="10.6" font-weight="bold" fill="#4d4d4d" text-anchor="middle">COAD</text>
<line x1="200.84" y1="510.8" x2="200.84" y2="513.2" stroke="#555" stroke-width="0.8"/>
<text transform="translate(208.84 530.9) rotate(-90)" font-size="10.6" font-weight="bold" fill="#4d4d4d" text-anchor="middle">GBM</text>
<line x1="230.4" y1="510.8" x2="230.4" y2="513.2" stroke="#555" stroke-width="0.8"/>
<text transform="translate(238.4 530.9) rotate(-90)" font-size="10.6" font-weight="bold" fill="#4d4d4d" text-anchor="middle">HNSC</text>
<line x1="259.96" y1="510.8" x2="259.96" y2="513.2" stroke="#555" stroke-width="0.8"/>
<text transform="translate(267.96 530.9) rotate(-90)" font-size="10.6" font-weight="bold" fill="#4d4d4d" text-anchor="middle">LIHC</text>
<line x1="289.52" y1="510.8" x2="289.52" y2="513.2" stroke="#555" stroke-width="0.8"/>
<text transform="translate(297.52 530.9) rotate(-90)" font-size="10.6" font-weight="bold" fill="#4d4d4d" text-anchor="middle">LUSC</text>
<line x1="319.08" y1="510.8" x2="319.08" y2="513.2" stroke="#555" stroke-width="0.8"/>
<text transform="translate(327.08 530.9) rotate(-90)" font-size="10.6" font-weight="bold" fill="#4d4d4d" text-anchor="middle">OV</text>
<line x1="348.64" y1="510.8" x2="348.64" y2="513.2" stroke="#555" stroke-width="0.8"/>
<text transform="translate(356.64 530.9) rotate(-90)" font-size="10.6" font-weight="bold" fill="#4d4d4d" text-anchor="middle">PAAD</text>
<line x1="378.2" y1="510.8" x2="378.2" y2="513.2" stroke="#555" stroke-width="0.8"/>
<text transform="translate(386.2 530.9) rotate(-90)" font-size="10.6" font-weight="bold" fill="#4d4d4d" text-anchor="middle">PRAD</text>
<line x1="407.76" y1="510.8" x2="407.76" y2="513.2" stroke="#555" stroke-width="0.8"/>
<text transform="translate(415.76 530.9) rotate(-90)" font-size="10.6" font-weight="bold" fill="#4d4d4d" text-anchor="middle">SARC</text>
<line x1="437.32" y1="510.8" x2="437.32" y2="513.2" stroke="#555" stroke-width="0.8"/>
<text transform="translate(445.32 530.9) rotate(-90)" font-size="10.6" font-weight="bold" fill="#4d4d4d" text-anchor="middle">SKCM</text>
<line x1="466.88" y1="510.8" x2="466.88" y2="513.2" stroke="#555" stroke-width="0.8"/>
<text transform="translate(474.88 530.9) rotate(-90)" font-size="10.6" font-weight="bold" fill="#4d4d4d" text-anchor="middle">STAD</text>
<line x1="496.44" y1="510.8" x2="496.44" y2="513.2" stroke="#555" stroke-width="0.8"/>
<text transform="translate(504.44 530.9) rotate(-90)" font-size="10.6" font-weight="bold" fill="#4d4d4d" text-anchor="middle">TGCT</text>
<line x1="526" y1="510.8" x2="526" y2="513.2" stroke="#555" stroke-width="0.8"/>
<text transform="translate(534 530.9) rotate(-90)" font-size="10.6" font-weight="bold" fill="#4d4d4d" text-anchor="middle">THCA</text>
<line x1="555.56" y1="510.8" x2="555.56" y2="513.2" stroke="#555" stroke-width="0.8"/>
<text transform="translate(563.56 530.9) rotate(-90)" font-size="10.6" font-weight="bold" fill="#4d4d4d" text-anchor="middle">UCEC</text>
<rect x="588.6" y="397" width="14.2" height="14.4" fill="#f38a63" stroke="#ef4f14" stroke-width="1"/>
<rect x="588.6" y="412.6" width="14.2" height="14.4" fill="#64c0e0" stroke="#20a5d8" stroke-width="1"/>
<text x="609.2" y="406.9" font-size="11.4" font-weight="bold" fill="#000" text-anchor="start">f</text>
<text x="613" y="409.6" font-size="8.2" font-weight="bold" fill="#000" text-anchor="start" textLength="20.6" lengthAdjust="spacingAndGlyphs">deam</text>
<text x="609.4" y="424.2" font-size="11.6" font-weight="bold" fill="#000" text-anchor="start" textLength="48.8" lengthAdjust="spacingAndGlyphs">HRDsum</text>
<line x1="62.3" y1="616" x2="62.3" y2="832" stroke="#333" stroke-width="1.1"/>
<line x1="61.8" y1="831.6" x2="292.6" y2="831.6" stroke="#333" stroke-width="1.1"/>
<line x1="59.6" y1="821.9" x2="62.3" y2="821.9" stroke="#333" stroke-width="1"/>
<text x="57.5" y="826.5" font-size="9.5" font-weight="normal" fill="#4d4d4d" text-anchor="end" textLength="5.85" lengthAdjust="spacingAndGlyphs">0</text>
<line x1="281.5" y1="831.6" x2="281.5" y2="834.4" stroke="#333" stroke-width="1"/>
<text x="281.5" y="845.3" font-size="9.5" font-weight="normal" fill="#4d4d4d" text-anchor="middle" textLength="5.85" lengthAdjust="spacingAndGlyphs">0</text>
<line x1="59.6" y1="772.83" x2="62.3" y2="772.83" stroke="#333" stroke-width="1"/>
<text x="57.5" y="777.43" font-size="9.5" font-weight="normal" fill="#4d4d4d" text-anchor="end" textLength="11.7" lengthAdjust="spacingAndGlyphs">25</text>
<line x1="229.28" y1="831.6" x2="229.28" y2="834.4" stroke="#333" stroke-width="1"/>
<text x="229.28" y="845.3" font-size="9.5" font-weight="normal" fill="#4d4d4d" text-anchor="middle" textLength="11.7" lengthAdjust="spacingAndGlyphs">25</text>
<line x1="59.6" y1="723.75" x2="62.3" y2="723.75" stroke="#333" stroke-width="1"/>
<text x="57.5" y="728.35" font-size="9.5" font-weight="normal" fill="#4d4d4d" text-anchor="end" textLength="11.7" lengthAdjust="spacingAndGlyphs">50</text>
<line x1="177.05" y1="831.6" x2="177.05" y2="834.4" stroke="#333" stroke-width="1"/>
<text x="177.05" y="845.3" font-size="9.5" font-weight="normal" fill="#4d4d4d" text-anchor="middle" textLength="11.7" lengthAdjust="spacingAndGlyphs">50</text>
<line x1="59.6" y1="674.67" x2="62.3" y2="674.67" stroke="#333" stroke-width="1"/>
<text x="57.5" y="679.27" font-size="9.5" font-weight="normal" fill="#4d4d4d" text-anchor="end" textLength="11.7" lengthAdjust="spacingAndGlyphs">75</text>
<line x1="124.82" y1="831.6" x2="124.82" y2="834.4" stroke="#333" stroke-width="1"/>
<text x="124.82" y="845.3" font-size="9.5" font-weight="normal" fill="#4d4d4d" text-anchor="middle" textLength="11.7" lengthAdjust="spacingAndGlyphs">75</text>
<line x1="59.6" y1="625.6" x2="62.3" y2="625.6" stroke="#333" stroke-width="1"/>
<text x="57.5" y="630.2" font-size="9.5" font-weight="normal" fill="#4d4d4d" text-anchor="end" textLength="18.2" lengthAdjust="spacingAndGlyphs">100</text>
<line x1="72.6" y1="831.6" x2="72.6" y2="834.4" stroke="#333" stroke-width="1"/>
<text x="72.6" y="845.3" font-size="9.5" font-weight="normal" fill="#4d4d4d" text-anchor="middle" textLength="18.2" lengthAdjust="spacingAndGlyphs">100</text>
<line x1="72.6" y1="821.9" x2="281.5" y2="625.6" stroke="#444" stroke-width="2" stroke-dasharray="6.9 7.5"/>
<path d="M72.5,820.9 L92.7,814.8 L93.5,807.7 L97,806.9 L97.9,791.1 L100.5,787.6 L102.3,777.1 L106.7,777.1 L108.4,770.1 L119.8,770.1 L122.4,763.1 L124.2,756.1 L127.7,756.1 L129.4,749.9 L132.1,745.6 L133.8,740.3 L134.5,737.6 L135,732 L142,732 L144.7,725.4 L146.4,724.5 L151.7,709.6 L153.4,707.9 L157.8,707.9 L162.2,704.3 L163.1,701.2 L165.7,700.8 L168.3,694.2 L180.6,694.2 L182.3,690.3 L184.1,686.8 L185.8,676.7 L194.6,671.9 L195.5,670.2 L202.5,670.2 L205.1,664.9 L207.7,662.3 L211.7,660.4 L215.3,660.4 L217.5,645.8 L221.9,642.1 L228.5,642.1 L229.2,639.2 L237.2,638.5 L238.7,636 L251.8,636 L259.9,636 L260.6,633.4 L271.5,632.6 L273.7,630.4 L278.8,629 L281.8,627.5 L281.3,625.6" fill="none" stroke="#ee5e27" stroke-width="2.9" stroke-linejoin="round" stroke-linecap="round"/>
<path d="M72.5,820.9 L73.4,784.1 L74.3,773.6 L76,770.1 L77.8,763.1 L79.5,759.6 L82.1,752.6 L84.8,749.1 L89.2,749.1 L92.7,744.7 L99.7,724.5 L100.5,723.6 L111.4,723.6 L113.1,720.1 L115.8,720.1 L117.5,714.9 L121,706.1 L123.7,705.2 L127.2,698.2 L132.4,698.2 L135,691.2 L138.5,686.8 L142,686.8 L150.8,676.3 L154.3,665.8 L156.9,665.5 L163.9,654.4 L176.2,654.4 L180.6,650.9 L192,650.9 L197.2,647.4 L204.4,647.2 L211,642.8 L219,642.8 L281.3,625.4" fill="none" stroke="#1fa4d8" stroke-opacity="0.88" stroke-width="2.9" stroke-linejoin="round" stroke-linecap="round"/>
<line x1="130" y1="784.1" x2="142" y2="784.1" stroke="#ee5e27" stroke-width="3"/>
<line x1="130" y1="799.3" x2="142" y2="799.3" stroke="#27a9d9" stroke-width="3"/>
<text x="149.6" y="787.9" font-size="12.6" font-weight="normal" fill="#111" text-anchor="start">f</text>
<text x="154" y="789.8" font-size="8.6" font-weight="normal" fill="#111" text-anchor="start" textLength="21.6" lengthAdjust="spacingAndGlyphs">deam</text>
<text x="176.2" y="787.9" font-size="11.5" font-weight="normal" fill="#111" text-anchor="start" textLength="94.1" lengthAdjust="spacingAndGlyphs">: 0.61 (0.54-0.67)</text>
<text x="149.6" y="802.4" font-size="11.5" font-weight="normal" fill="#111" text-anchor="start" textLength="144.2" lengthAdjust="spacingAndGlyphs">HRDsum: 0.76 (0.69-0.83)</text>
<text x="162.2" y="819.6" font-size="11.5" font-weight="normal" fill="#111" text-anchor="start">p</text>
<text x="169.1" y="821" font-size="8.6" font-weight="normal" fill="#111" text-anchor="start" textLength="29.6" lengthAdjust="spacingAndGlyphs">DeLong</text>
<text x="202.4" y="819.6" font-size="11.5" font-weight="normal" fill="#111" text-anchor="start" textLength="8" lengthAdjust="spacingAndGlyphs">=</text>
<text x="212.8" y="819.8" font-size="10" font-weight="normal" fill="#111" text-anchor="start" textLength="42.6" lengthAdjust="spacingAndGlyphs">0.00037</text>
<text transform="translate(33.9 723.5) rotate(-90)" font-size="11.4" font-weight="bold" fill="#000" text-anchor="middle" textLength="78.5" lengthAdjust="spacingAndGlyphs">Sensitivity (%)</text>
<text x="138.5" y="858.2" font-size="11.4" font-weight="bold" fill="#000" text-anchor="start" textLength="77.3" lengthAdjust="spacingAndGlyphs">Specificity (%)</text>
<text x="14" y="590.2" font-size="24" font-weight="bold" fill="#000" text-anchor="start" textLength="12.6" lengthAdjust="spacingAndGlyphs" stroke="#000" stroke-width="1.1">C</text>
<text x="64.4" y="605" font-size="13.2" font-weight="bold" fill="#000" text-anchor="start" textLength="106.3" lengthAdjust="spacingAndGlyphs" stroke="#000" stroke-width="0.3">TCGA-PANCAN*</text>
<text x="174.6" y="605" font-size="13.2" font-weight="bold" fill="#000" text-anchor="start" textLength="25.5" lengthAdjust="spacingAndGlyphs" stroke="#000" stroke-width="0.3">(low</text>
<text x="203.8" y="605" font-size="13.2" font-weight="bold" fill="#000" text-anchor="start" textLength="5.6" lengthAdjust="spacingAndGlyphs" stroke="#000" stroke-width="0.3">f</text>
<text x="210.1" y="607.6" font-size="9.4" font-weight="bold" fill="#000" text-anchor="start" textLength="25" lengthAdjust="spacingAndGlyphs" stroke="#000" stroke-width="0.3">deam</text>
<text x="239" y="605" font-size="13.2" font-weight="bold" fill="#000" text-anchor="start" textLength="51.8" lengthAdjust="spacingAndGlyphs" stroke="#000" stroke-width="0.3">entities)</text>
<line x1="397" y1="616" x2="397" y2="832" stroke="#333" stroke-width="1.1"/>
<line x1="396.5" y1="831.6" x2="627.3" y2="831.6" stroke="#333" stroke-width="1.1"/>
<line x1="394.3" y1="821.9" x2="397" y2="821.9" stroke="#333" stroke-width="1"/>
<text x="392.2" y="826.5" font-size="9.5" font-weight="normal" fill="#4d4d4d" text-anchor="end" textLength="5.85" lengthAdjust="spacingAndGlyphs">0</text>
<line x1="616.2" y1="831.6" x2="616.2" y2="834.4" stroke="#333" stroke-width="1"/>
<text x="616.2" y="845.3" font-size="9.5" font-weight="normal" fill="#4d4d4d" text-anchor="middle" textLength="5.85" lengthAdjust="spacingAndGlyphs">0</text>
<line x1="394.3" y1="772.83" x2="397" y2="772.83" stroke="#333" stroke-width="1"/>
<text x="392.2" y="777.43" font-size="9.5" font-weight="normal" fill="#4d4d4d" text-anchor="end" textLength="11.7" lengthAdjust="spacingAndGlyphs">25</text>
<line x1="563.98" y1="831.6" x2="563.98" y2="834.4" stroke="#333" stroke-width="1"/>
<text x="563.98" y="845.3" font-size="9.5" font-weight="normal" fill="#4d4d4d" text-anchor="middle" textLength="11.7" lengthAdjust="spacingAndGlyphs">25</text>
<line x1="394.3" y1="723.75" x2="397" y2="723.75" stroke="#333" stroke-width="1"/>
<text x="392.2" y="728.35" font-size="9.5" font-weight="normal" fill="#4d4d4d" text-anchor="end" textLength="11.7" lengthAdjust="spacingAndGlyphs">50</text>
<line x1="511.75" y1="831.6" x2="511.75" y2="834.4" stroke="#333" stroke-width="1"/>
<text x="511.75" y="845.3" font-size="9.5" font-weight="normal" fill="#4d4d4d" text-anchor="middle" textLength="11.7" lengthAdjust="spacingAndGlyphs">50</text>
<line x1="394.3" y1="674.67" x2="397" y2="674.67" stroke="#333" stroke-width="1"/>
<text x="392.2" y="679.27" font-size="9.5" font-weight="normal" fill="#4d4d4d" text-anchor="end" textLength="11.7" lengthAdjust="spacingAndGlyphs">75</text>
<line x1="459.52" y1="831.6" x2="459.52" y2="834.4" stroke="#333" stroke-width="1"/>
<text x="459.52" y="845.3" font-size="9.5" font-weight="normal" fill="#4d4d4d" text-anchor="middle" textLength="11.7" lengthAdjust="spacingAndGlyphs">75</text>
<line x1="394.3" y1="625.6" x2="397" y2="625.6" stroke="#333" stroke-width="1"/>
<text x="392.2" y="630.2" font-size="9.5" font-weight="normal" fill="#4d4d4d" text-anchor="end" textLength="18.2" lengthAdjust="spacingAndGlyphs">100</text>
<line x1="407.3" y1="831.6" x2="407.3" y2="834.4" stroke="#333" stroke-width="1"/>
<text x="407.3" y="845.3" font-size="9.5" font-weight="normal" fill="#4d4d4d" text-anchor="middle" textLength="18.2" lengthAdjust="spacingAndGlyphs">100</text>
<line x1="407.3" y1="821.9" x2="616.2" y2="625.6" stroke="#444" stroke-width="2" stroke-dasharray="6.9 7.5"/>
<path d="M409.7,822.5 L411,820.9 L412.1,793.4 L413.7,778.9 L416.2,774 L417.8,763.5 L421,762.7 L421.8,755.4 L425,754.6 L425.8,751.4 L429.9,751.4 L431.5,740.9 L435.5,740.9 L439.6,736.8 L443.6,734.4 L446.8,732 L448.5,722.3 L455.3,719.4 L462.6,714.3 L463.4,711.1 L467,711.1 L468.5,699.7 L471.4,696 L475,696 L477.2,689.5 L482.3,685.1 L487.4,685.1 L488.9,681.9 L502.8,681.9 L503.5,674.9 L515.9,674.1 L516.6,670.5 L524.7,670.2 L526.9,666.8 L530,666.9 L535.8,666.9 L536.6,662.6 L539.5,661.8 L540.2,658.9 L543.9,658.9 L544.6,655.3 L568,655.3 L568.7,652.3 L570.9,648.7 L578.2,648.2 L578.9,645 L582.6,644.3 L583.3,641 L587.7,640.7 L588.4,637 L597.2,637 L598.6,633.4 L609.6,633.4 L609.6,626.1 L616.1,626.1" fill="none" stroke="#ee5e27" stroke-width="2.9" stroke-linejoin="round" stroke-linecap="round"/>
<path d="M407.3,821.7 L407.3,786.9 L408.1,757.9 L409.4,743.3 L410.5,736.8 L412.9,732.8 L416.2,728 L418.6,720.7 L422.6,720.7 L425,716.7 L427.5,716.7 L428.3,709.4 L445.8,709.2 L453.9,697.5 L458.2,697.5 L465.5,690.2 L468.5,690.2 L471.8,678.8 L495.5,678.8 L500.6,674.9 L504.2,674.9 L512.3,670.9 L526.1,670.9 L530,666.9 L532.9,663.7 L547.5,664 L554.1,656.4 L576.7,656.4 L580.4,654.5 L592,648.2 L597.9,637.7 L603,634.8 L616.1,626.8" fill="none" stroke="#1fa4d8" stroke-opacity="0.88" stroke-width="2.9" stroke-linejoin="round" stroke-linecap="round"/>
<line x1="464.7" y1="784.1" x2="476.7" y2="784.1" stroke="#ee5e27" stroke-width="3"/>
<line x1="464.7" y1="799.3" x2="476.7" y2="799.3" stroke="#27a9d9" stroke-width="3"/>
<text x="484.3" y="787.9" font-size="12.6" font-weight="normal" fill="#111" text-anchor="start">f</text>
<text x="488.7" y="789.8" font-size="8.6" font-weight="normal" fill="#111" text-anchor="start" textLength="21.6" lengthAdjust="spacingAndGlyphs">deam</text>
<text x="510.9" y="787.9" font-size="11.5" font-weight="normal" fill="#111" text-anchor="start" textLength="85.2" lengthAdjust="spacingAndGlyphs">: 0.7 (0.61-0.78)</text>
<text x="484.3" y="802.4" font-size="11.5" font-weight="normal" fill="#111" text-anchor="start" textLength="143.6" lengthAdjust="spacingAndGlyphs">HRDsum: 0.74 (0.65-0.84)</text>
<text x="506.9" y="819.6" font-size="11.5" font-weight="normal" fill="#111" text-anchor="start">p</text>
<text x="513.8" y="821" font-size="8.6" font-weight="normal" fill="#111" text-anchor="start" textLength="29.6" lengthAdjust="spacingAndGlyphs">DeLong</text>
<text x="547.1" y="819.6" font-size="11.5" font-weight="normal" fill="#111" text-anchor="start" textLength="8" lengthAdjust="spacingAndGlyphs">=</text>
<text x="557.5" y="819.8" font-size="10" font-weight="normal" fill="#111" text-anchor="start" textLength="22" lengthAdjust="spacingAndGlyphs">0.28</text>
<text transform="translate(368.6 723.5) rotate(-90)" font-size="11.4" font-weight="bold" fill="#000" text-anchor="middle" textLength="78.5" lengthAdjust="spacingAndGlyphs">Sensitivity (%)</text>
<text x="473.2" y="858.2" font-size="11.4" font-weight="bold" fill="#000" text-anchor="start" textLength="77.3" lengthAdjust="spacingAndGlyphs">Specificity (%)</text>
<text x="347.3" y="590.2" font-size="24" font-weight="bold" fill="#000" text-anchor="start" textLength="14.6" lengthAdjust="spacingAndGlyphs" stroke="#000" stroke-width="1.1">D</text>
<text x="395.7" y="605" font-size="13.2" font-weight="bold" fill="#000" text-anchor="start" textLength="106.3" lengthAdjust="spacingAndGlyphs" stroke="#000" stroke-width="0.3">TCGA-PANCAN*</text>
<text x="507.2" y="605" font-size="13.2" font-weight="bold" fill="#000" text-anchor="start" textLength="30.4" lengthAdjust="spacingAndGlyphs" stroke="#000" stroke-width="0.3">(high</text>
<text x="541.4" y="605" font-size="13.2" font-weight="bold" fill="#000" text-anchor="start" textLength="5.6" lengthAdjust="spacingAndGlyphs" stroke="#000" stroke-width="0.3">f</text>
<text x="547.4" y="607.6" font-size="9.4" font-weight="bold" fill="#000" text-anchor="start" textLength="24.7" lengthAdjust="spacingAndGlyphs" stroke="#000" stroke-width="0.3">deam</text>
<text x="576.5" y="605" font-size="13.2" font-weight="bold" fill="#000" text-anchor="start" textLength="51" lengthAdjust="spacingAndGlyphs" stroke="#000" stroke-width="0.3">entities)</text>
</svg></body></html>
